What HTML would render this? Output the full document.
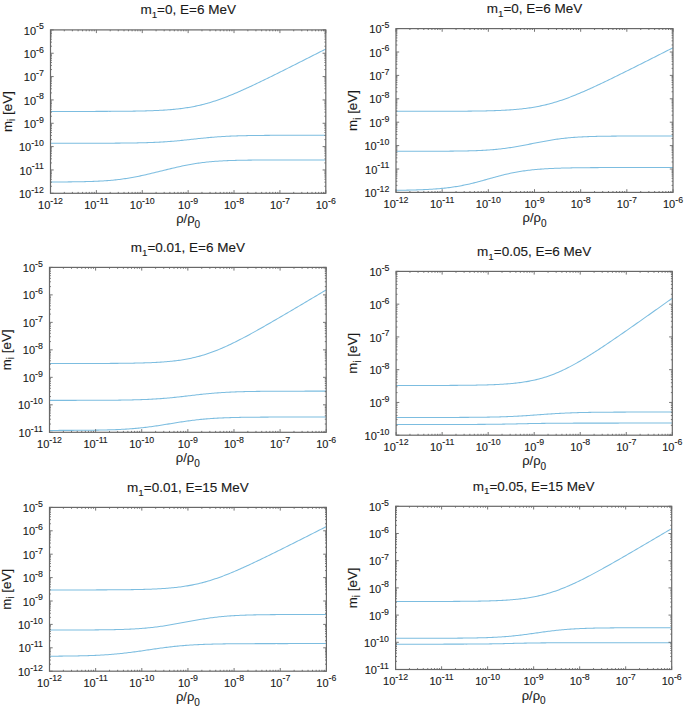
<!DOCTYPE html><html><head><meta charset="utf-8"><style>html,body{margin:0;padding:0;background:#fff;overflow:hidden;}svg{display:block;}text{font-family:"Liberation Sans",sans-serif;fill:#1a1a1a;stroke:#1a1a1a;stroke-width:0.12px;}</style></head><body>
<svg width="685" height="709" viewBox="0 0 685 709">
<rect width="685" height="709" fill="#fff"/>
<g><path d="M50.50,111.44 L51.88,111.44 L53.27,111.43 L54.65,111.43 L56.03,111.43 L57.42,111.43 L58.80,111.43 L60.18,111.43 L61.57,111.43 L62.95,111.43 L64.33,111.43 L65.72,111.43 L67.10,111.43 L68.48,111.43 L69.87,111.43 L71.25,111.43 L72.63,111.43 L74.02,111.42 L75.40,111.42 L76.78,111.42 L78.17,111.42 L79.55,111.42 L80.94,111.42 L82.32,111.42 L83.70,111.42 L85.09,111.41 L86.47,111.41 L87.85,111.41 L89.24,111.41 L90.62,111.40 L92.00,111.40 L93.39,111.40 L94.77,111.40 L96.15,111.39 L97.54,111.39 L98.92,111.39 L100.30,111.38 L101.69,111.38 L103.07,111.37 L104.45,111.37 L105.84,111.36 L107.22,111.36 L108.60,111.35 L109.99,111.35 L111.37,111.34 L112.75,111.33 L114.14,111.32 L115.52,111.32 L116.90,111.31 L118.29,111.30 L119.67,111.29 L121.05,111.28 L122.44,111.27 L123.82,111.25 L125.20,111.24 L126.59,111.23 L127.97,111.21 L129.35,111.19 L130.74,111.18 L132.12,111.16 L133.51,111.14 L134.89,111.12 L136.27,111.09 L137.66,111.07 L139.04,111.04 L140.42,111.01 L141.81,110.98 L143.19,110.95 L144.57,110.92 L145.96,110.88 L147.34,110.84 L148.72,110.80 L150.11,110.76 L151.49,110.71 L152.87,110.66 L154.26,110.60 L155.64,110.55 L157.02,110.49 L158.41,110.42 L159.79,110.35 L161.17,110.28 L162.56,110.20 L163.94,110.11 L165.32,110.02 L166.71,109.93 L168.09,109.83 L169.47,109.72 L170.86,109.61 L172.24,109.49 L173.62,109.36 L175.01,109.23 L176.39,109.09 L177.77,108.94 L179.16,108.78 L180.54,108.61 L181.92,108.44 L183.31,108.25 L184.69,108.06 L186.07,107.85 L187.46,107.64 L188.84,107.41 L190.23,107.18 L191.61,106.93 L192.99,106.67 L194.38,106.40 L195.76,106.12 L197.14,105.83 L198.53,105.52 L199.91,105.20 L201.29,104.87 L202.68,104.53 L204.06,104.18 L205.44,103.81 L206.83,103.43 L208.21,103.04 L209.59,102.64 L210.98,102.23 L212.36,101.80 L213.74,101.36 L215.13,100.91 L216.51,100.45 L217.89,99.98 L219.28,99.50 L220.66,99.01 L222.04,98.51 L223.43,98.00 L224.81,97.47 L226.19,96.94 L227.58,96.40 L228.96,95.85 L230.34,95.30 L231.73,94.73 L233.11,94.16 L234.49,93.58 L235.88,93.00 L237.26,92.40 L238.64,91.80 L240.03,91.20 L241.41,90.59 L242.79,89.97 L244.18,89.35 L245.56,88.72 L246.95,88.09 L248.33,87.46 L249.71,86.82 L251.10,86.17 L252.48,85.52 L253.86,84.87 L255.25,84.22 L256.63,83.56 L258.01,82.90 L259.40,82.24 L260.78,81.57 L262.16,80.90 L263.55,80.23 L264.93,79.56 L266.31,78.89 L267.70,78.21 L269.08,77.53 L270.46,76.85 L271.85,76.17 L273.23,75.49 L274.61,74.80 L276.00,74.12 L277.38,73.43 L278.76,72.75 L280.15,72.06 L281.53,71.37 L282.91,70.68 L284.30,69.98 L285.68,69.29 L287.06,68.60 L288.45,67.90 L289.83,67.21 L291.21,66.51 L292.60,65.82 L293.98,65.12 L295.36,64.43 L296.75,63.73 L298.13,63.03 L299.52,62.33 L300.90,61.63 L302.28,60.94 L303.67,60.24 L305.05,59.54 L306.43,58.84 L307.82,58.14 L309.20,57.44 L310.58,56.74 L311.97,56.04 L313.35,55.34 L314.73,54.63 L316.12,53.93 L317.50,53.23 L318.88,52.53 L320.27,51.83 L321.65,51.13 L323.03,50.42 L324.42,49.72 L325.80,49.02" fill="none" stroke="#7cbde0" stroke-width="1.05" stroke-linejoin="round"/><path d="M50.50,143.25 L51.88,143.25 L53.27,143.25 L54.65,143.25 L56.03,143.25 L57.42,143.25 L58.80,143.25 L60.18,143.25 L61.57,143.25 L62.95,143.25 L64.33,143.25 L65.72,143.25 L67.10,143.25 L68.48,143.25 L69.87,143.25 L71.25,143.25 L72.63,143.25 L74.02,143.25 L75.40,143.24 L76.78,143.24 L78.17,143.24 L79.55,143.24 L80.94,143.24 L82.32,143.24 L83.70,143.24 L85.09,143.23 L86.47,143.23 L87.85,143.23 L89.24,143.23 L90.62,143.23 L92.00,143.22 L93.39,143.22 L94.77,143.22 L96.15,143.22 L97.54,143.21 L98.92,143.21 L100.30,143.21 L101.69,143.20 L103.07,143.20 L104.45,143.19 L105.84,143.19 L107.22,143.18 L108.60,143.18 L109.99,143.17 L111.37,143.16 L112.75,143.16 L114.14,143.15 L115.52,143.14 L116.90,143.13 L118.29,143.12 L119.67,143.11 L121.05,143.10 L122.44,143.09 L123.82,143.07 L125.20,143.06 L126.59,143.04 L127.97,143.03 L129.35,143.01 L130.74,142.99 L132.12,142.97 L133.51,142.95 L134.89,142.93 L136.27,142.90 L137.66,142.88 L139.04,142.85 L140.42,142.82 L141.81,142.78 L143.19,142.75 L144.57,142.71 L145.96,142.67 L147.34,142.63 L148.72,142.59 L150.11,142.54 L151.49,142.49 L152.87,142.43 L154.26,142.38 L155.64,142.31 L157.02,142.25 L158.41,142.18 L159.79,142.11 L161.17,142.03 L162.56,141.95 L163.94,141.87 L165.32,141.78 L166.71,141.69 L168.09,141.59 L169.47,141.49 L170.86,141.38 L172.24,141.27 L173.62,141.15 L175.01,141.04 L176.39,140.91 L177.77,140.78 L179.16,140.65 L180.54,140.52 L181.92,140.38 L183.31,140.24 L184.69,140.10 L186.07,139.95 L187.46,139.80 L188.84,139.66 L190.23,139.51 L191.61,139.35 L192.99,139.20 L194.38,139.05 L195.76,138.90 L197.14,138.75 L198.53,138.60 L199.91,138.46 L201.29,138.31 L202.68,138.17 L204.06,138.03 L205.44,137.90 L206.83,137.76 L208.21,137.63 L209.59,137.51 L210.98,137.39 L212.36,137.27 L213.74,137.16 L215.13,137.05 L216.51,136.95 L217.89,136.85 L219.28,136.75 L220.66,136.66 L222.04,136.58 L223.43,136.49 L224.81,136.42 L226.19,136.34 L227.58,136.27 L228.96,136.21 L230.34,136.14 L231.73,136.08 L233.11,136.03 L234.49,135.98 L235.88,135.93 L237.26,135.88 L238.64,135.84 L240.03,135.80 L241.41,135.76 L242.79,135.72 L244.18,135.69 L245.56,135.66 L246.95,135.63 L248.33,135.60 L249.71,135.58 L251.10,135.55 L252.48,135.53 L253.86,135.51 L255.25,135.49 L256.63,135.47 L258.01,135.46 L259.40,135.44 L260.78,135.43 L262.16,135.41 L263.55,135.40 L264.93,135.39 L266.31,135.38 L267.70,135.37 L269.08,135.36 L270.46,135.35 L271.85,135.34 L273.23,135.33 L274.61,135.33 L276.00,135.32 L277.38,135.31 L278.76,135.31 L280.15,135.30 L281.53,135.30 L282.91,135.29 L284.30,135.29 L285.68,135.29 L287.06,135.28 L288.45,135.28 L289.83,135.28 L291.21,135.27 L292.60,135.27 L293.98,135.27 L295.36,135.27 L296.75,135.26 L298.13,135.26 L299.52,135.26 L300.90,135.26 L302.28,135.26 L303.67,135.26 L305.05,135.25 L306.43,135.25 L307.82,135.25 L309.20,135.25 L310.58,135.25 L311.97,135.25 L313.35,135.25 L314.73,135.25 L316.12,135.25 L317.50,135.25 L318.88,135.24 L320.27,135.24 L321.65,135.24 L323.03,135.24 L324.42,135.24 L325.80,135.24" fill="none" stroke="#7cbde0" stroke-width="1.05" stroke-linejoin="round"/><path d="M50.50,181.99 L51.88,181.98 L53.27,181.98 L54.65,181.97 L56.03,181.97 L57.42,181.96 L58.80,181.95 L60.18,181.95 L61.57,181.94 L62.95,181.93 L64.33,181.92 L65.72,181.91 L67.10,181.90 L68.48,181.89 L69.87,181.87 L71.25,181.86 L72.63,181.84 L74.02,181.83 L75.40,181.81 L76.78,181.79 L78.17,181.77 L79.55,181.75 L80.94,181.72 L82.32,181.69 L83.70,181.67 L85.09,181.63 L86.47,181.60 L87.85,181.56 L89.24,181.52 L90.62,181.48 L92.00,181.43 L93.39,181.38 L94.77,181.33 L96.15,181.27 L97.54,181.21 L98.92,181.14 L100.30,181.07 L101.69,181.00 L103.07,180.91 L104.45,180.82 L105.84,180.73 L107.22,180.63 L108.60,180.52 L109.99,180.41 L111.37,180.29 L112.75,180.16 L114.14,180.02 L115.52,179.88 L116.90,179.73 L118.29,179.57 L119.67,179.40 L121.05,179.22 L122.44,179.04 L123.82,178.85 L125.20,178.64 L126.59,178.43 L127.97,178.21 L129.35,177.98 L130.74,177.75 L132.12,177.50 L133.51,177.25 L134.89,176.99 L136.27,176.72 L137.66,176.44 L139.04,176.16 L140.42,175.87 L141.81,175.57 L143.19,175.27 L144.57,174.97 L145.96,174.65 L147.34,174.33 L148.72,174.01 L150.11,173.69 L151.49,173.36 L152.87,173.02 L154.26,172.69 L155.64,172.35 L157.02,172.01 L158.41,171.67 L159.79,171.33 L161.17,170.99 L162.56,170.65 L163.94,170.30 L165.32,169.96 L166.71,169.62 L168.09,169.29 L169.47,168.95 L170.86,168.62 L172.24,168.29 L173.62,167.96 L175.01,167.64 L176.39,167.32 L177.77,167.01 L179.16,166.70 L180.54,166.40 L181.92,166.11 L183.31,165.82 L184.69,165.53 L186.07,165.26 L187.46,164.99 L188.84,164.73 L190.23,164.47 L191.61,164.23 L192.99,163.99 L194.38,163.76 L195.76,163.54 L197.14,163.33 L198.53,163.13 L199.91,162.94 L201.29,162.75 L202.68,162.57 L204.06,162.40 L205.44,162.24 L206.83,162.09 L208.21,161.95 L209.59,161.81 L210.98,161.68 L212.36,161.56 L213.74,161.45 L215.13,161.34 L216.51,161.24 L217.89,161.15 L219.28,161.06 L220.66,160.98 L222.04,160.90 L223.43,160.83 L224.81,160.76 L226.19,160.70 L227.58,160.64 L228.96,160.59 L230.34,160.54 L231.73,160.49 L233.11,160.45 L234.49,160.41 L235.88,160.37 L237.26,160.34 L238.64,160.31 L240.03,160.28 L241.41,160.25 L242.79,160.23 L244.18,160.20 L245.56,160.18 L246.95,160.16 L248.33,160.14 L249.71,160.13 L251.10,160.11 L252.48,160.10 L253.86,160.09 L255.25,160.07 L256.63,160.06 L258.01,160.05 L259.40,160.04 L260.78,160.03 L262.16,160.03 L263.55,160.02 L264.93,160.01 L266.31,160.01 L267.70,160.00 L269.08,159.99 L270.46,159.99 L271.85,159.99 L273.23,159.98 L274.61,159.98 L276.00,159.97 L277.38,159.97 L278.76,159.97 L280.15,159.97 L281.53,159.96 L282.91,159.96 L284.30,159.96 L285.68,159.96 L287.06,159.96 L288.45,159.95 L289.83,159.95 L291.21,159.95 L292.60,159.95 L293.98,159.95 L295.36,159.95 L296.75,159.95 L298.13,159.95 L299.52,159.94 L300.90,159.94 L302.28,159.94 L303.67,159.94 L305.05,159.94 L306.43,159.94 L307.82,159.94 L309.20,159.94 L310.58,159.94 L311.97,159.94 L313.35,159.94 L314.73,159.94 L316.12,159.94 L317.50,159.94 L318.88,159.94 L320.27,159.94 L321.65,159.94 L323.03,159.94 L324.42,159.94 L325.80,159.94" fill="none" stroke="#7cbde0" stroke-width="1.05" stroke-linejoin="round"/><path d="M50.50,193.30v-3.2M50.50,29.90v3.2M64.31,193.30v-1.4M64.31,29.90v1.4M72.39,193.30v-1.4M72.39,29.90v1.4M78.12,193.30v-1.4M78.12,29.90v1.4M82.57,193.30v-1.4M82.57,29.90v1.4M86.20,193.30v-1.4M86.20,29.90v1.4M89.28,193.30v-1.4M89.28,29.90v1.4M91.94,193.30v-1.4M91.94,29.90v1.4M94.28,193.30v-1.4M94.28,29.90v1.4M96.38,193.30v-3.2M96.38,29.90v3.2M110.20,193.30v-1.4M110.20,29.90v1.4M118.28,193.30v-1.4M118.28,29.90v1.4M124.01,193.30v-1.4M124.01,29.90v1.4M128.45,193.30v-1.4M128.45,29.90v1.4M132.09,193.30v-1.4M132.09,29.90v1.4M135.16,193.30v-1.4M135.16,29.90v1.4M137.82,193.30v-1.4M137.82,29.90v1.4M140.17,193.30v-1.4M140.17,29.90v1.4M142.27,193.30v-3.2M142.27,29.90v3.2M156.08,193.30v-1.4M156.08,29.90v1.4M164.16,193.30v-1.4M164.16,29.90v1.4M169.89,193.30v-1.4M169.89,29.90v1.4M174.34,193.30v-1.4M174.34,29.90v1.4M177.97,193.30v-1.4M177.97,29.90v1.4M181.04,193.30v-1.4M181.04,29.90v1.4M183.70,193.30v-1.4M183.70,29.90v1.4M186.05,193.30v-1.4M186.05,29.90v1.4M188.15,193.30v-3.2M188.15,29.90v3.2M201.96,193.30v-1.4M201.96,29.90v1.4M210.04,193.30v-1.4M210.04,29.90v1.4M215.77,193.30v-1.4M215.77,29.90v1.4M220.22,193.30v-1.4M220.22,29.90v1.4M223.85,193.30v-1.4M223.85,29.90v1.4M226.93,193.30v-1.4M226.93,29.90v1.4M229.59,193.30v-1.4M229.59,29.90v1.4M231.93,193.30v-1.4M231.93,29.90v1.4M234.03,193.30v-3.2M234.03,29.90v3.2M247.85,193.30v-1.4M247.85,29.90v1.4M255.93,193.30v-1.4M255.93,29.90v1.4M261.66,193.30v-1.4M261.66,29.90v1.4M266.10,193.30v-1.4M266.10,29.90v1.4M269.74,193.30v-1.4M269.74,29.90v1.4M272.81,193.30v-1.4M272.81,29.90v1.4M275.47,193.30v-1.4M275.47,29.90v1.4M277.82,193.30v-1.4M277.82,29.90v1.4M279.92,193.30v-3.2M279.92,29.90v3.2M293.73,193.30v-1.4M293.73,29.90v1.4M301.81,193.30v-1.4M301.81,29.90v1.4M307.54,193.30v-1.4M307.54,29.90v1.4M311.99,193.30v-1.4M311.99,29.90v1.4M315.62,193.30v-1.4M315.62,29.90v1.4M318.69,193.30v-1.4M318.69,29.90v1.4M321.35,193.30v-1.4M321.35,29.90v1.4M323.70,193.30v-1.4M323.70,29.90v1.4M325.80,193.30v-3.2M325.80,29.90v3.2M50.50,193.30h3.2M325.80,193.30h-3.2M50.50,186.27h1.4M325.80,186.27h-1.4M50.50,182.16h1.4M325.80,182.16h-1.4M50.50,179.25h1.4M325.80,179.25h-1.4M50.50,176.98h1.4M325.80,176.98h-1.4M50.50,175.14h1.4M325.80,175.14h-1.4M50.50,173.57h1.4M325.80,173.57h-1.4M50.50,172.22h1.4M325.80,172.22h-1.4M50.50,171.03h1.4M325.80,171.03h-1.4M50.50,169.96h3.2M325.80,169.96h-3.2M50.50,162.93h1.4M325.80,162.93h-1.4M50.50,158.82h1.4M325.80,158.82h-1.4M50.50,155.90h1.4M325.80,155.90h-1.4M50.50,153.64h1.4M325.80,153.64h-1.4M50.50,151.79h1.4M325.80,151.79h-1.4M50.50,150.23h1.4M325.80,150.23h-1.4M50.50,148.88h1.4M325.80,148.88h-1.4M50.50,147.68h1.4M325.80,147.68h-1.4M50.50,146.61h3.2M325.80,146.61h-3.2M50.50,139.59h1.4M325.80,139.59h-1.4M50.50,135.48h1.4M325.80,135.48h-1.4M50.50,132.56h1.4M325.80,132.56h-1.4M50.50,130.30h1.4M325.80,130.30h-1.4M50.50,128.45h1.4M325.80,128.45h-1.4M50.50,126.89h1.4M325.80,126.89h-1.4M50.50,125.53h1.4M325.80,125.53h-1.4M50.50,124.34h1.4M325.80,124.34h-1.4M50.50,123.27h3.2M325.80,123.27h-3.2M50.50,116.24h1.4M325.80,116.24h-1.4M50.50,112.13h1.4M325.80,112.13h-1.4M50.50,109.22h1.4M325.80,109.22h-1.4M50.50,106.96h1.4M325.80,106.96h-1.4M50.50,105.11h1.4M325.80,105.11h-1.4M50.50,103.54h1.4M325.80,103.54h-1.4M50.50,102.19h1.4M325.80,102.19h-1.4M50.50,101.00h1.4M325.80,101.00h-1.4M50.50,99.93h3.2M325.80,99.93h-3.2M50.50,92.90h1.4M325.80,92.90h-1.4M50.50,88.79h1.4M325.80,88.79h-1.4M50.50,85.87h1.4M325.80,85.87h-1.4M50.50,83.61h1.4M325.80,83.61h-1.4M50.50,81.76h1.4M325.80,81.76h-1.4M50.50,80.20h1.4M325.80,80.20h-1.4M50.50,78.85h1.4M325.80,78.85h-1.4M50.50,77.65h1.4M325.80,77.65h-1.4M50.50,76.59h3.2M325.80,76.59h-3.2M50.50,69.56h1.4M325.80,69.56h-1.4M50.50,65.45h1.4M325.80,65.45h-1.4M50.50,62.53h1.4M325.80,62.53h-1.4M50.50,60.27h1.4M325.80,60.27h-1.4M50.50,58.42h1.4M325.80,58.42h-1.4M50.50,56.86h1.4M325.80,56.86h-1.4M50.50,55.51h1.4M325.80,55.51h-1.4M50.50,54.31h1.4M325.80,54.31h-1.4M50.50,53.24h3.2M325.80,53.24h-3.2M50.50,46.22h1.4M325.80,46.22h-1.4M50.50,42.11h1.4M325.80,42.11h-1.4M50.50,39.19h1.4M325.80,39.19h-1.4M50.50,36.93h1.4M325.80,36.93h-1.4M50.50,35.08h1.4M325.80,35.08h-1.4M50.50,33.52h1.4M325.80,33.52h-1.4M50.50,32.16h1.4M325.80,32.16h-1.4M50.50,30.97h1.4M325.80,30.97h-1.4M50.50,29.90h3.2M325.80,29.90h-3.2" stroke="#686868" stroke-width="0.9" fill="none"/><rect x="50.50" y="29.90" width="275.30" height="163.40" fill="none" stroke="#686868" stroke-width="1.2"/><text x="50.50" y="208.70" font-size="11" text-anchor="middle">10<tspan dy="-5.2" font-size="8.8">-12</tspan></text><text x="96.38" y="208.70" font-size="11" text-anchor="middle">10<tspan dy="-5.2" font-size="8.8">-11</tspan></text><text x="142.27" y="208.70" font-size="11" text-anchor="middle">10<tspan dy="-5.2" font-size="8.8">-10</tspan></text><text x="188.15" y="208.70" font-size="11" text-anchor="middle">10<tspan dy="-5.2" font-size="8.8">-9</tspan></text><text x="234.03" y="208.70" font-size="11" text-anchor="middle">10<tspan dy="-5.2" font-size="8.8">-8</tspan></text><text x="279.92" y="208.70" font-size="11" text-anchor="middle">10<tspan dy="-5.2" font-size="8.8">-7</tspan></text><text x="325.80" y="208.70" font-size="11" text-anchor="middle">10<tspan dy="-5.2" font-size="8.8">-6</tspan></text><text x="43.90" y="197.90" font-size="11" text-anchor="end">10<tspan dy="-5.2" font-size="8.8">-12</tspan></text><text x="43.90" y="174.56" font-size="11" text-anchor="end">10<tspan dy="-5.2" font-size="8.8">-11</tspan></text><text x="43.90" y="151.21" font-size="11" text-anchor="end">10<tspan dy="-5.2" font-size="8.8">-10</tspan></text><text x="43.90" y="127.87" font-size="11" text-anchor="end">10<tspan dy="-5.2" font-size="8.8">-9</tspan></text><text x="43.90" y="104.53" font-size="11" text-anchor="end">10<tspan dy="-5.2" font-size="8.8">-8</tspan></text><text x="43.90" y="81.19" font-size="11" text-anchor="end">10<tspan dy="-5.2" font-size="8.8">-7</tspan></text><text x="43.90" y="57.84" font-size="11" text-anchor="end">10<tspan dy="-5.2" font-size="8.8">-6</tspan></text><text x="43.90" y="34.50" font-size="11" text-anchor="end">10<tspan dy="-5.2" font-size="8.8">-5</tspan></text><text x="188.15" y="14.40" font-size="13.5" text-anchor="middle">m<tspan dy="3.6" font-size="9.8">1</tspan><tspan dy="-3.6">=0, E=6 MeV</tspan></text><text x="188.15" y="223.30" font-size="13" text-anchor="middle">ρ/ρ<tspan dy="4.6" font-size="10">0</tspan></text><text transform="translate(11.60,111.60) rotate(-90)" x="0" y="0" font-size="13.4" text-anchor="middle">m<tspan dy="3.6" font-size="10">i</tspan><tspan dy="-3.6"> [eV]</tspan></text></g>
<g><path d="M396.00,111.33 L397.39,111.33 L398.78,111.33 L400.18,111.33 L401.57,111.33 L402.96,111.33 L404.35,111.33 L405.74,111.33 L407.14,111.33 L408.53,111.33 L409.92,111.33 L411.31,111.33 L412.70,111.33 L414.10,111.33 L415.49,111.32 L416.88,111.32 L418.27,111.32 L419.66,111.32 L421.06,111.32 L422.45,111.32 L423.84,111.32 L425.23,111.32 L426.62,111.31 L428.02,111.31 L429.41,111.31 L430.80,111.31 L432.19,111.31 L433.58,111.30 L434.97,111.30 L436.37,111.30 L437.76,111.30 L439.15,111.29 L440.54,111.29 L441.93,111.29 L443.33,111.28 L444.72,111.28 L446.11,111.27 L447.50,111.27 L448.89,111.26 L450.29,111.26 L451.68,111.25 L453.07,111.25 L454.46,111.24 L455.85,111.23 L457.25,111.23 L458.64,111.22 L460.03,111.21 L461.42,111.20 L462.81,111.19 L464.21,111.18 L465.60,111.17 L466.99,111.16 L468.38,111.14 L469.77,111.13 L471.17,111.12 L472.56,111.10 L473.95,111.08 L475.34,111.07 L476.73,111.05 L478.13,111.03 L479.52,111.00 L480.91,110.98 L482.30,110.95 L483.69,110.93 L485.09,110.90 L486.48,110.87 L487.87,110.83 L489.26,110.80 L490.65,110.76 L492.05,110.72 L493.44,110.68 L494.83,110.63 L496.22,110.58 L497.61,110.53 L499.01,110.48 L500.40,110.42 L501.79,110.35 L503.18,110.29 L504.57,110.22 L505.96,110.14 L507.36,110.06 L508.75,109.97 L510.14,109.88 L511.53,109.78 L512.92,109.68 L514.32,109.57 L515.71,109.45 L517.10,109.33 L518.49,109.20 L519.88,109.06 L521.28,108.92 L522.67,108.77 L524.06,108.60 L525.45,108.43 L526.84,108.25 L528.24,108.06 L529.63,107.86 L531.02,107.65 L532.41,107.43 L533.80,107.20 L535.20,106.96 L536.59,106.71 L537.98,106.45 L539.37,106.17 L540.76,105.88 L542.16,105.58 L543.55,105.27 L544.94,104.95 L546.33,104.62 L547.72,104.27 L549.12,103.91 L550.51,103.54 L551.90,103.15 L553.29,102.76 L554.68,102.35 L556.08,101.93 L557.47,101.49 L558.86,101.05 L560.25,100.60 L561.64,100.13 L563.04,99.65 L564.43,99.17 L565.82,98.67 L567.21,98.16 L568.60,97.64 L569.99,97.12 L571.39,96.58 L572.78,96.04 L574.17,95.48 L575.56,94.92 L576.95,94.35 L578.35,93.78 L579.74,93.19 L581.13,92.60 L582.52,92.01 L583.91,91.40 L585.31,90.79 L586.70,90.18 L588.09,89.56 L589.48,88.93 L590.87,88.30 L592.27,87.67 L593.66,87.03 L595.05,86.39 L596.44,85.74 L597.83,85.09 L599.23,84.43 L600.62,83.78 L602.01,83.12 L603.40,82.45 L604.79,81.79 L606.19,81.12 L607.58,80.45 L608.97,79.78 L610.36,79.10 L611.75,78.42 L613.15,77.75 L614.54,77.07 L615.93,76.38 L617.32,75.70 L618.71,75.01 L620.11,74.33 L621.50,73.64 L622.89,72.95 L624.28,72.26 L625.67,71.57 L627.07,70.88 L628.46,70.19 L629.85,69.49 L631.24,68.80 L632.63,68.10 L634.03,67.41 L635.42,66.71 L636.81,66.01 L638.20,65.32 L639.59,64.62 L640.98,63.92 L642.38,63.22 L643.77,62.52 L645.16,61.82 L646.55,61.12 L647.94,60.42 L649.34,59.72 L650.73,59.02 L652.12,58.32 L653.51,57.61 L654.90,56.91 L656.30,56.21 L657.69,55.51 L659.08,54.80 L660.47,54.10 L661.86,53.40 L663.26,52.69 L664.65,51.99 L666.04,51.29 L667.43,50.58 L668.82,49.88 L670.22,49.18 L671.61,48.47 L673.00,47.77" fill="none" stroke="#7cbde0" stroke-width="1.05" stroke-linejoin="round"/><path d="M396.00,151.28 L397.39,151.28 L398.78,151.28 L400.18,151.28 L401.57,151.28 L402.96,151.28 L404.35,151.28 L405.74,151.27 L407.14,151.27 L408.53,151.27 L409.92,151.27 L411.31,151.27 L412.70,151.27 L414.10,151.27 L415.49,151.27 L416.88,151.27 L418.27,151.26 L419.66,151.26 L421.06,151.26 L422.45,151.26 L423.84,151.26 L425.23,151.25 L426.62,151.25 L428.02,151.25 L429.41,151.24 L430.80,151.24 L432.19,151.24 L433.58,151.23 L434.97,151.23 L436.37,151.22 L437.76,151.22 L439.15,151.21 L440.54,151.21 L441.93,151.20 L443.33,151.19 L444.72,151.18 L446.11,151.17 L447.50,151.16 L448.89,151.15 L450.29,151.14 L451.68,151.13 L453.07,151.12 L454.46,151.10 L455.85,151.09 L457.25,151.07 L458.64,151.05 L460.03,151.03 L461.42,151.01 L462.81,150.99 L464.21,150.96 L465.60,150.93 L466.99,150.90 L468.38,150.87 L469.77,150.83 L471.17,150.80 L472.56,150.75 L473.95,150.71 L475.34,150.66 L476.73,150.61 L478.13,150.56 L479.52,150.50 L480.91,150.43 L482.30,150.36 L483.69,150.29 L485.09,150.21 L486.48,150.13 L487.87,150.04 L489.26,149.94 L490.65,149.84 L492.05,149.73 L493.44,149.61 L494.83,149.49 L496.22,149.36 L497.61,149.22 L499.01,149.08 L500.40,148.92 L501.79,148.76 L503.18,148.60 L504.57,148.42 L505.96,148.24 L507.36,148.04 L508.75,147.85 L510.14,147.64 L511.53,147.42 L512.92,147.20 L514.32,146.98 L515.71,146.74 L517.10,146.50 L518.49,146.26 L519.88,146.00 L521.28,145.75 L522.67,145.49 L524.06,145.22 L525.45,144.95 L526.84,144.68 L528.24,144.41 L529.63,144.13 L531.02,143.86 L532.41,143.58 L533.80,143.30 L535.20,143.03 L536.59,142.75 L537.98,142.48 L539.37,142.21 L540.76,141.94 L542.16,141.68 L543.55,141.42 L544.94,141.17 L546.33,140.92 L547.72,140.67 L549.12,140.43 L550.51,140.20 L551.90,139.98 L553.29,139.76 L554.68,139.55 L556.08,139.34 L557.47,139.14 L558.86,138.96 L560.25,138.77 L561.64,138.60 L563.04,138.44 L564.43,138.28 L565.82,138.13 L567.21,137.99 L568.60,137.85 L569.99,137.72 L571.39,137.60 L572.78,137.49 L574.17,137.38 L575.56,137.28 L576.95,137.19 L578.35,137.10 L579.74,137.02 L581.13,136.94 L582.52,136.87 L583.91,136.80 L585.31,136.74 L586.70,136.68 L588.09,136.63 L589.48,136.58 L590.87,136.53 L592.27,136.49 L593.66,136.45 L595.05,136.41 L596.44,136.37 L597.83,136.34 L599.23,136.31 L600.62,136.29 L602.01,136.26 L603.40,136.24 L604.79,136.22 L606.19,136.20 L607.58,136.18 L608.97,136.16 L610.36,136.15 L611.75,136.13 L613.15,136.12 L614.54,136.11 L615.93,136.10 L617.32,136.09 L618.71,136.08 L620.11,136.07 L621.50,136.06 L622.89,136.05 L624.28,136.05 L625.67,136.04 L627.07,136.03 L628.46,136.03 L629.85,136.02 L631.24,136.02 L632.63,136.02 L634.03,136.01 L635.42,136.01 L636.81,136.01 L638.20,136.00 L639.59,136.00 L640.98,136.00 L642.38,136.00 L643.77,135.99 L645.16,135.99 L646.55,135.99 L647.94,135.99 L649.34,135.99 L650.73,135.99 L652.12,135.98 L653.51,135.98 L654.90,135.98 L656.30,135.98 L657.69,135.98 L659.08,135.98 L660.47,135.98 L661.86,135.98 L663.26,135.98 L664.65,135.98 L666.04,135.98 L667.43,135.98 L668.82,135.98 L670.22,135.97 L671.61,135.97 L673.00,135.97" fill="none" stroke="#7cbde0" stroke-width="1.05" stroke-linejoin="round"/><path d="M396.00,190.31 L397.39,190.29 L398.78,190.28 L400.18,190.26 L401.57,190.24 L402.96,190.21 L404.35,190.19 L405.74,190.16 L407.14,190.13 L408.53,190.11 L409.92,190.07 L411.31,190.04 L412.70,190.00 L414.10,189.97 L415.49,189.92 L416.88,189.88 L418.27,189.83 L419.66,189.79 L421.06,189.73 L422.45,189.68 L423.84,189.62 L425.23,189.55 L426.62,189.48 L428.02,189.41 L429.41,189.33 L430.80,189.25 L432.19,189.17 L433.58,189.07 L434.97,188.98 L436.37,188.87 L437.76,188.76 L439.15,188.65 L440.54,188.52 L441.93,188.39 L443.33,188.25 L444.72,188.11 L446.11,187.95 L447.50,187.79 L448.89,187.62 L450.29,187.44 L451.68,187.25 L453.07,187.06 L454.46,186.85 L455.85,186.63 L457.25,186.40 L458.64,186.16 L460.03,185.92 L461.42,185.66 L462.81,185.39 L464.21,185.11 L465.60,184.82 L466.99,184.52 L468.38,184.21 L469.77,183.89 L471.17,183.56 L472.56,183.23 L473.95,182.88 L475.34,182.53 L476.73,182.17 L478.13,181.80 L479.52,181.43 L480.91,181.05 L482.30,180.66 L483.69,180.27 L485.09,179.88 L486.48,179.49 L487.87,179.10 L489.26,178.70 L490.65,178.31 L492.05,177.92 L493.44,177.53 L494.83,177.15 L496.22,176.77 L497.61,176.39 L499.01,176.02 L500.40,175.66 L501.79,175.30 L503.18,174.95 L504.57,174.61 L505.96,174.28 L507.36,173.96 L508.75,173.64 L510.14,173.34 L511.53,173.05 L512.92,172.77 L514.32,172.49 L515.71,172.23 L517.10,171.98 L518.49,171.74 L519.88,171.51 L521.28,171.28 L522.67,171.07 L524.06,170.87 L525.45,170.68 L526.84,170.50 L528.24,170.32 L529.63,170.16 L531.02,170.00 L532.41,169.85 L533.80,169.71 L535.20,169.58 L536.59,169.45 L537.98,169.33 L539.37,169.22 L540.76,169.12 L542.16,169.02 L543.55,168.92 L544.94,168.83 L546.33,168.75 L547.72,168.67 L549.12,168.60 L550.51,168.53 L551.90,168.46 L553.29,168.40 L554.68,168.34 L556.08,168.29 L557.47,168.24 L558.86,168.19 L560.25,168.15 L561.64,168.10 L563.04,168.06 L564.43,168.03 L565.82,167.99 L567.21,167.96 L568.60,167.93 L569.99,167.90 L571.39,167.88 L572.78,167.85 L574.17,167.83 L575.56,167.81 L576.95,167.79 L578.35,167.77 L579.74,167.75 L581.13,167.73 L582.52,167.72 L583.91,167.70 L585.31,167.69 L586.70,167.68 L588.09,167.66 L589.48,167.65 L590.87,167.64 L592.27,167.63 L593.66,167.62 L595.05,167.62 L596.44,167.61 L597.83,167.60 L599.23,167.59 L600.62,167.59 L602.01,167.58 L603.40,167.57 L604.79,167.57 L606.19,167.56 L607.58,167.56 L608.97,167.56 L610.36,167.55 L611.75,167.55 L613.15,167.54 L614.54,167.54 L615.93,167.54 L617.32,167.53 L618.71,167.53 L620.11,167.53 L621.50,167.53 L622.89,167.53 L624.28,167.52 L625.67,167.52 L627.07,167.52 L628.46,167.52 L629.85,167.52 L631.24,167.51 L632.63,167.51 L634.03,167.51 L635.42,167.51 L636.81,167.51 L638.20,167.51 L639.59,167.51 L640.98,167.51 L642.38,167.51 L643.77,167.51 L645.16,167.50 L646.55,167.50 L647.94,167.50 L649.34,167.50 L650.73,167.50 L652.12,167.50 L653.51,167.50 L654.90,167.50 L656.30,167.50 L657.69,167.50 L659.08,167.50 L660.47,167.50 L661.86,167.50 L663.26,167.50 L664.65,167.50 L666.04,167.50 L667.43,167.50 L668.82,167.50 L670.22,167.50 L671.61,167.50 L673.00,167.50" fill="none" stroke="#7cbde0" stroke-width="1.05" stroke-linejoin="round"/><path d="M396.00,192.40v-3.2M396.00,28.60v3.2M409.90,192.40v-1.4M409.90,28.60v1.4M418.03,192.40v-1.4M418.03,28.60v1.4M423.80,192.40v-1.4M423.80,28.60v1.4M428.27,192.40v-1.4M428.27,28.60v1.4M431.92,192.40v-1.4M431.92,28.60v1.4M435.02,192.40v-1.4M435.02,28.60v1.4M437.69,192.40v-1.4M437.69,28.60v1.4M440.05,192.40v-1.4M440.05,28.60v1.4M442.17,192.40v-3.2M442.17,28.60v3.2M456.06,192.40v-1.4M456.06,28.60v1.4M464.19,192.40v-1.4M464.19,28.60v1.4M469.96,192.40v-1.4M469.96,28.60v1.4M474.44,192.40v-1.4M474.44,28.60v1.4M478.09,192.40v-1.4M478.09,28.60v1.4M481.18,192.40v-1.4M481.18,28.60v1.4M483.86,192.40v-1.4M483.86,28.60v1.4M486.22,192.40v-1.4M486.22,28.60v1.4M488.33,192.40v-3.2M488.33,28.60v3.2M502.23,192.40v-1.4M502.23,28.60v1.4M510.36,192.40v-1.4M510.36,28.60v1.4M516.13,192.40v-1.4M516.13,28.60v1.4M520.60,192.40v-1.4M520.60,28.60v1.4M524.26,192.40v-1.4M524.26,28.60v1.4M527.35,192.40v-1.4M527.35,28.60v1.4M530.03,192.40v-1.4M530.03,28.60v1.4M532.39,192.40v-1.4M532.39,28.60v1.4M534.50,192.40v-3.2M534.50,28.60v3.2M548.40,192.40v-1.4M548.40,28.60v1.4M556.53,192.40v-1.4M556.53,28.60v1.4M562.30,192.40v-1.4M562.30,28.60v1.4M566.77,192.40v-1.4M566.77,28.60v1.4M570.42,192.40v-1.4M570.42,28.60v1.4M573.52,192.40v-1.4M573.52,28.60v1.4M576.19,192.40v-1.4M576.19,28.60v1.4M578.55,192.40v-1.4M578.55,28.60v1.4M580.67,192.40v-3.2M580.67,28.60v3.2M594.56,192.40v-1.4M594.56,28.60v1.4M602.69,192.40v-1.4M602.69,28.60v1.4M608.46,192.40v-1.4M608.46,28.60v1.4M612.94,192.40v-1.4M612.94,28.60v1.4M616.59,192.40v-1.4M616.59,28.60v1.4M619.68,192.40v-1.4M619.68,28.60v1.4M622.36,192.40v-1.4M622.36,28.60v1.4M624.72,192.40v-1.4M624.72,28.60v1.4M626.83,192.40v-3.2M626.83,28.60v3.2M640.73,192.40v-1.4M640.73,28.60v1.4M648.86,192.40v-1.4M648.86,28.60v1.4M654.63,192.40v-1.4M654.63,28.60v1.4M659.10,192.40v-1.4M659.10,28.60v1.4M662.76,192.40v-1.4M662.76,28.60v1.4M665.85,192.40v-1.4M665.85,28.60v1.4M668.53,192.40v-1.4M668.53,28.60v1.4M670.89,192.40v-1.4M670.89,28.60v1.4M673.00,192.40v-3.2M673.00,28.60v3.2M396.00,192.40h3.2M673.00,192.40h-3.2M396.00,185.36h1.4M673.00,185.36h-1.4M396.00,181.24h1.4M673.00,181.24h-1.4M396.00,178.31h1.4M673.00,178.31h-1.4M396.00,176.04h1.4M673.00,176.04h-1.4M396.00,174.19h1.4M673.00,174.19h-1.4M396.00,172.62h1.4M673.00,172.62h-1.4M396.00,171.27h1.4M673.00,171.27h-1.4M396.00,170.07h1.4M673.00,170.07h-1.4M396.00,169.00h3.2M673.00,169.00h-3.2M396.00,161.96h1.4M673.00,161.96h-1.4M396.00,157.84h1.4M673.00,157.84h-1.4M396.00,154.91h1.4M673.00,154.91h-1.4M396.00,152.64h1.4M673.00,152.64h-1.4M396.00,150.79h1.4M673.00,150.79h-1.4M396.00,149.22h1.4M673.00,149.22h-1.4M396.00,147.87h1.4M673.00,147.87h-1.4M396.00,146.67h1.4M673.00,146.67h-1.4M396.00,145.60h3.2M673.00,145.60h-3.2M396.00,138.56h1.4M673.00,138.56h-1.4M396.00,134.44h1.4M673.00,134.44h-1.4M396.00,131.51h1.4M673.00,131.51h-1.4M396.00,129.24h1.4M673.00,129.24h-1.4M396.00,127.39h1.4M673.00,127.39h-1.4M396.00,125.82h1.4M673.00,125.82h-1.4M396.00,124.47h1.4M673.00,124.47h-1.4M396.00,123.27h1.4M673.00,123.27h-1.4M396.00,122.20h3.2M673.00,122.20h-3.2M396.00,115.16h1.4M673.00,115.16h-1.4M396.00,111.04h1.4M673.00,111.04h-1.4M396.00,108.11h1.4M673.00,108.11h-1.4M396.00,105.84h1.4M673.00,105.84h-1.4M396.00,103.99h1.4M673.00,103.99h-1.4M396.00,102.42h1.4M673.00,102.42h-1.4M396.00,101.07h1.4M673.00,101.07h-1.4M396.00,99.87h1.4M673.00,99.87h-1.4M396.00,98.80h3.2M673.00,98.80h-3.2M396.00,91.76h1.4M673.00,91.76h-1.4M396.00,87.64h1.4M673.00,87.64h-1.4M396.00,84.71h1.4M673.00,84.71h-1.4M396.00,82.44h1.4M673.00,82.44h-1.4M396.00,80.59h1.4M673.00,80.59h-1.4M396.00,79.02h1.4M673.00,79.02h-1.4M396.00,77.67h1.4M673.00,77.67h-1.4M396.00,76.47h1.4M673.00,76.47h-1.4M396.00,75.40h3.2M673.00,75.40h-3.2M396.00,68.36h1.4M673.00,68.36h-1.4M396.00,64.24h1.4M673.00,64.24h-1.4M396.00,61.31h1.4M673.00,61.31h-1.4M396.00,59.04h1.4M673.00,59.04h-1.4M396.00,57.19h1.4M673.00,57.19h-1.4M396.00,55.62h1.4M673.00,55.62h-1.4M396.00,54.27h1.4M673.00,54.27h-1.4M396.00,53.07h1.4M673.00,53.07h-1.4M396.00,52.00h3.2M673.00,52.00h-3.2M396.00,44.96h1.4M673.00,44.96h-1.4M396.00,40.84h1.4M673.00,40.84h-1.4M396.00,37.91h1.4M673.00,37.91h-1.4M396.00,35.64h1.4M673.00,35.64h-1.4M396.00,33.79h1.4M673.00,33.79h-1.4M396.00,32.22h1.4M673.00,32.22h-1.4M396.00,30.87h1.4M673.00,30.87h-1.4M396.00,29.67h1.4M673.00,29.67h-1.4M396.00,28.60h3.2M673.00,28.60h-3.2" stroke="#686868" stroke-width="0.9" fill="none"/><rect x="396.00" y="28.60" width="277.00" height="163.80" fill="none" stroke="#686868" stroke-width="1.2"/><text x="396.00" y="207.80" font-size="11" text-anchor="middle">10<tspan dy="-5.2" font-size="8.8">-12</tspan></text><text x="442.17" y="207.80" font-size="11" text-anchor="middle">10<tspan dy="-5.2" font-size="8.8">-11</tspan></text><text x="488.33" y="207.80" font-size="11" text-anchor="middle">10<tspan dy="-5.2" font-size="8.8">-10</tspan></text><text x="534.50" y="207.80" font-size="11" text-anchor="middle">10<tspan dy="-5.2" font-size="8.8">-9</tspan></text><text x="580.67" y="207.80" font-size="11" text-anchor="middle">10<tspan dy="-5.2" font-size="8.8">-8</tspan></text><text x="626.83" y="207.80" font-size="11" text-anchor="middle">10<tspan dy="-5.2" font-size="8.8">-7</tspan></text><text x="673.00" y="207.80" font-size="11" text-anchor="middle">10<tspan dy="-5.2" font-size="8.8">-6</tspan></text><text x="389.40" y="197.00" font-size="11" text-anchor="end">10<tspan dy="-5.2" font-size="8.8">-12</tspan></text><text x="389.40" y="173.60" font-size="11" text-anchor="end">10<tspan dy="-5.2" font-size="8.8">-11</tspan></text><text x="389.40" y="150.20" font-size="11" text-anchor="end">10<tspan dy="-5.2" font-size="8.8">-10</tspan></text><text x="389.40" y="126.80" font-size="11" text-anchor="end">10<tspan dy="-5.2" font-size="8.8">-9</tspan></text><text x="389.40" y="103.40" font-size="11" text-anchor="end">10<tspan dy="-5.2" font-size="8.8">-8</tspan></text><text x="389.40" y="80.00" font-size="11" text-anchor="end">10<tspan dy="-5.2" font-size="8.8">-7</tspan></text><text x="389.40" y="56.60" font-size="11" text-anchor="end">10<tspan dy="-5.2" font-size="8.8">-6</tspan></text><text x="389.40" y="33.20" font-size="11" text-anchor="end">10<tspan dy="-5.2" font-size="8.8">-5</tspan></text><text x="534.50" y="13.10" font-size="13.5" text-anchor="middle">m<tspan dy="3.6" font-size="9.8">1</tspan><tspan dy="-3.6">=0, E=6 MeV</tspan></text><text x="534.50" y="222.40" font-size="13" text-anchor="middle">ρ/ρ<tspan dy="4.6" font-size="10">0</tspan></text><text transform="translate(357.10,110.50) rotate(-90)" x="0" y="0" font-size="13.4" text-anchor="middle">m<tspan dy="3.6" font-size="10">i</tspan><tspan dy="-3.6"> [eV]</tspan></text></g>
<g><path d="M49.50,363.51 L50.89,363.51 L52.28,363.51 L53.67,363.51 L55.06,363.51 L56.45,363.51 L57.84,363.51 L59.23,363.51 L60.62,363.50 L62.01,363.50 L63.40,363.50 L64.79,363.50 L66.19,363.50 L67.58,363.50 L68.97,363.50 L70.36,363.50 L71.75,363.50 L73.14,363.50 L74.53,363.49 L75.92,363.49 L77.31,363.49 L78.70,363.49 L80.09,363.49 L81.48,363.49 L82.87,363.48 L84.26,363.48 L85.65,363.48 L87.04,363.48 L88.43,363.47 L89.82,363.47 L91.21,363.47 L92.60,363.47 L93.99,363.46 L95.38,363.46 L96.78,363.45 L98.17,363.45 L99.56,363.45 L100.95,363.44 L102.34,363.44 L103.73,363.43 L105.12,363.42 L106.51,363.42 L107.90,363.41 L109.29,363.40 L110.68,363.39 L112.07,363.39 L113.46,363.38 L114.85,363.37 L116.24,363.36 L117.63,363.35 L119.02,363.33 L120.41,363.32 L121.80,363.31 L123.19,363.29 L124.58,363.28 L125.97,363.26 L127.37,363.24 L128.76,363.22 L130.15,363.20 L131.54,363.18 L132.93,363.15 L134.32,363.13 L135.71,363.10 L137.10,363.07 L138.49,363.04 L139.88,363.01 L141.27,362.97 L142.66,362.93 L144.05,362.89 L145.44,362.85 L146.83,362.80 L148.22,362.75 L149.61,362.70 L151.00,362.65 L152.39,362.59 L153.78,362.52 L155.17,362.45 L156.56,362.38 L157.96,362.30 L159.35,362.22 L160.74,362.13 L162.13,362.04 L163.52,361.94 L164.91,361.83 L166.30,361.72 L167.69,361.60 L169.08,361.48 L170.47,361.34 L171.86,361.20 L173.25,361.05 L174.64,360.89 L176.03,360.72 L177.42,360.54 L178.81,360.36 L180.20,360.16 L181.59,359.95 L182.98,359.73 L184.37,359.50 L185.76,359.26 L187.15,359.00 L188.55,358.74 L189.94,358.46 L191.33,358.16 L192.72,357.86 L194.11,357.54 L195.50,357.20 L196.89,356.86 L198.28,356.50 L199.67,356.12 L201.06,355.73 L202.45,355.33 L203.84,354.91 L205.23,354.47 L206.62,354.03 L208.01,353.57 L209.40,353.09 L210.79,352.60 L212.18,352.10 L213.57,351.58 L214.96,351.05 L216.35,350.51 L217.74,349.95 L219.14,349.38 L220.53,348.80 L221.92,348.21 L223.31,347.60 L224.70,346.99 L226.09,346.36 L227.48,345.72 L228.87,345.08 L230.26,344.42 L231.65,343.75 L233.04,343.08 L234.43,342.40 L235.82,341.70 L237.21,341.01 L238.60,340.30 L239.99,339.59 L241.38,338.87 L242.77,338.14 L244.16,337.41 L245.55,336.67 L246.94,335.92 L248.33,335.17 L249.73,334.42 L251.12,333.66 L252.51,332.90 L253.90,332.13 L255.29,331.36 L256.68,330.59 L258.07,329.81 L259.46,329.03 L260.85,328.24 L262.24,327.46 L263.63,326.67 L265.02,325.88 L266.41,325.08 L267.80,324.28 L269.19,323.49 L270.58,322.69 L271.97,321.88 L273.36,321.08 L274.75,320.27 L276.14,319.47 L277.53,318.66 L278.92,317.85 L280.32,317.04 L281.71,316.22 L283.10,315.41 L284.49,314.60 L285.88,313.78 L287.27,312.96 L288.66,312.15 L290.05,311.33 L291.44,310.51 L292.83,309.69 L294.22,308.87 L295.61,308.05 L297.00,307.23 L298.39,306.41 L299.78,305.59 L301.17,304.76 L302.56,303.94 L303.95,303.12 L305.34,302.30 L306.73,301.47 L308.12,300.65 L309.51,299.82 L310.91,299.00 L312.30,298.17 L313.69,297.35 L315.08,296.52 L316.47,295.70 L317.86,294.87 L319.25,294.04 L320.64,293.22 L322.03,292.39 L323.42,291.56 L324.81,290.74 L326.20,289.91" fill="none" stroke="#7cbde0" stroke-width="1.05" stroke-linejoin="round"/><path d="M49.50,400.36 L50.89,400.36 L52.28,400.36 L53.67,400.36 L55.06,400.36 L56.45,400.36 L57.84,400.36 L59.23,400.36 L60.62,400.36 L62.01,400.36 L63.40,400.36 L64.79,400.36 L66.19,400.36 L67.58,400.35 L68.97,400.35 L70.36,400.35 L71.75,400.35 L73.14,400.35 L74.53,400.35 L75.92,400.35 L77.31,400.34 L78.70,400.34 L80.09,400.34 L81.48,400.34 L82.87,400.33 L84.26,400.33 L85.65,400.33 L87.04,400.33 L88.43,400.32 L89.82,400.32 L91.21,400.31 L92.60,400.31 L93.99,400.31 L95.38,400.30 L96.78,400.29 L98.17,400.29 L99.56,400.28 L100.95,400.28 L102.34,400.27 L103.73,400.26 L105.12,400.25 L106.51,400.25 L107.90,400.24 L109.29,400.23 L110.68,400.21 L112.07,400.20 L113.46,400.19 L114.85,400.18 L116.24,400.16 L117.63,400.15 L119.02,400.13 L120.41,400.11 L121.80,400.09 L123.19,400.07 L124.58,400.05 L125.97,400.03 L127.37,400.00 L128.76,399.98 L130.15,399.95 L131.54,399.92 L132.93,399.89 L134.32,399.85 L135.71,399.81 L137.10,399.77 L138.49,399.73 L139.88,399.69 L141.27,399.64 L142.66,399.59 L144.05,399.54 L145.44,399.48 L146.83,399.42 L148.22,399.36 L149.61,399.29 L151.00,399.22 L152.39,399.14 L153.78,399.06 L155.17,398.98 L156.56,398.89 L157.96,398.80 L159.35,398.71 L160.74,398.61 L162.13,398.50 L163.52,398.39 L164.91,398.28 L166.30,398.16 L167.69,398.04 L169.08,397.91 L170.47,397.78 L171.86,397.65 L173.25,397.51 L174.64,397.37 L176.03,397.23 L177.42,397.08 L178.81,396.93 L180.20,396.77 L181.59,396.62 L182.98,396.46 L184.37,396.30 L185.76,396.14 L187.15,395.98 L188.55,395.81 L189.94,395.65 L191.33,395.49 L192.72,395.33 L194.11,395.17 L195.50,395.01 L196.89,394.85 L198.28,394.69 L199.67,394.54 L201.06,394.39 L202.45,394.24 L203.84,394.10 L205.23,393.96 L206.62,393.82 L208.01,393.69 L209.40,393.56 L210.79,393.43 L212.18,393.31 L213.57,393.19 L214.96,393.08 L216.35,392.97 L217.74,392.87 L219.14,392.77 L220.53,392.67 L221.92,392.58 L223.31,392.50 L224.70,392.41 L226.09,392.34 L227.48,392.26 L228.87,392.19 L230.26,392.12 L231.65,392.06 L233.04,392.00 L234.43,391.95 L235.82,391.89 L237.21,391.84 L238.60,391.80 L239.99,391.75 L241.38,391.71 L242.77,391.67 L244.16,391.64 L245.55,391.60 L246.94,391.57 L248.33,391.54 L249.73,391.51 L251.12,391.48 L252.51,391.46 L253.90,391.44 L255.29,391.41 L256.68,391.39 L258.07,391.38 L259.46,391.36 L260.85,391.34 L262.24,391.33 L263.63,391.31 L265.02,391.30 L266.41,391.29 L267.80,391.28 L269.19,391.26 L270.58,391.25 L271.97,391.25 L273.36,391.24 L274.75,391.23 L276.14,391.22 L277.53,391.21 L278.92,391.21 L280.32,391.20 L281.71,391.20 L283.10,391.19 L284.49,391.19 L285.88,391.18 L287.27,391.18 L288.66,391.17 L290.05,391.17 L291.44,391.17 L292.83,391.16 L294.22,391.16 L295.61,391.16 L297.00,391.16 L298.39,391.15 L299.78,391.15 L301.17,391.15 L302.56,391.15 L303.95,391.15 L305.34,391.14 L306.73,391.14 L308.12,391.14 L309.51,391.14 L310.91,391.14 L312.30,391.14 L313.69,391.14 L315.08,391.13 L316.47,391.13 L317.86,391.13 L319.25,391.13 L320.64,391.13 L322.03,391.13 L323.42,391.13 L324.81,391.13 L326.20,391.13" fill="none" stroke="#7cbde0" stroke-width="1.05" stroke-linejoin="round"/><path d="M49.50,430.41 L50.89,430.41 L52.28,430.41 L53.67,430.40 L55.06,430.40 L56.45,430.40 L57.84,430.40 L59.23,430.39 L60.62,430.39 L62.01,430.39 L63.40,430.38 L64.79,430.38 L66.19,430.37 L67.58,430.37 L68.97,430.36 L70.36,430.36 L71.75,430.35 L73.14,430.35 L74.53,430.34 L75.92,430.33 L77.31,430.33 L78.70,430.32 L80.09,430.31 L81.48,430.30 L82.87,430.29 L84.26,430.28 L85.65,430.26 L87.04,430.25 L88.43,430.24 L89.82,430.22 L91.21,430.21 L92.60,430.19 L93.99,430.17 L95.38,430.15 L96.78,430.13 L98.17,430.11 L99.56,430.08 L100.95,430.06 L102.34,430.03 L103.73,430.00 L105.12,429.96 L106.51,429.93 L107.90,429.89 L109.29,429.85 L110.68,429.81 L112.07,429.77 L113.46,429.72 L114.85,429.67 L116.24,429.61 L117.63,429.55 L119.02,429.49 L120.41,429.42 L121.80,429.35 L123.19,429.28 L124.58,429.20 L125.97,429.12 L127.37,429.03 L128.76,428.93 L130.15,428.83 L131.54,428.73 L132.93,428.62 L134.32,428.50 L135.71,428.38 L137.10,428.26 L138.49,428.12 L139.88,427.99 L141.27,427.84 L142.66,427.69 L144.05,427.53 L145.44,427.37 L146.83,427.20 L148.22,427.03 L149.61,426.85 L151.00,426.66 L152.39,426.47 L153.78,426.28 L155.17,426.08 L156.56,425.87 L157.96,425.66 L159.35,425.45 L160.74,425.23 L162.13,425.01 L163.52,424.79 L164.91,424.57 L166.30,424.34 L167.69,424.12 L169.08,423.89 L170.47,423.66 L171.86,423.43 L173.25,423.20 L174.64,422.98 L176.03,422.75 L177.42,422.53 L178.81,422.31 L180.20,422.09 L181.59,421.88 L182.98,421.67 L184.37,421.46 L185.76,421.26 L187.15,421.06 L188.55,420.87 L189.94,420.68 L191.33,420.50 L192.72,420.32 L194.11,420.15 L195.50,419.99 L196.89,419.83 L198.28,419.67 L199.67,419.53 L201.06,419.38 L202.45,419.25 L203.84,419.12 L205.23,419.00 L206.62,418.88 L208.01,418.77 L209.40,418.66 L210.79,418.56 L212.18,418.46 L213.57,418.37 L214.96,418.29 L216.35,418.21 L217.74,418.13 L219.14,418.06 L220.53,417.99 L221.92,417.92 L223.31,417.86 L224.70,417.81 L226.09,417.75 L227.48,417.71 L228.87,417.66 L230.26,417.62 L231.65,417.57 L233.04,417.54 L234.43,417.50 L235.82,417.47 L237.21,417.44 L238.60,417.41 L239.99,417.38 L241.38,417.35 L242.77,417.33 L244.16,417.31 L245.55,417.29 L246.94,417.27 L248.33,417.25 L249.73,417.23 L251.12,417.22 L252.51,417.20 L253.90,417.19 L255.29,417.18 L256.68,417.17 L258.07,417.16 L259.46,417.15 L260.85,417.14 L262.24,417.13 L263.63,417.12 L265.02,417.11 L266.41,417.11 L267.80,417.10 L269.19,417.09 L270.58,417.09 L271.97,417.08 L273.36,417.08 L274.75,417.07 L276.14,417.07 L277.53,417.07 L278.92,417.06 L280.32,417.06 L281.71,417.06 L283.10,417.05 L284.49,417.05 L285.88,417.05 L287.27,417.05 L288.66,417.04 L290.05,417.04 L291.44,417.04 L292.83,417.04 L294.22,417.04 L295.61,417.04 L297.00,417.03 L298.39,417.03 L299.78,417.03 L301.17,417.03 L302.56,417.03 L303.95,417.03 L305.34,417.03 L306.73,417.03 L308.12,417.03 L309.51,417.03 L310.91,417.02 L312.30,417.02 L313.69,417.02 L315.08,417.02 L316.47,417.02 L317.86,417.02 L319.25,417.02 L320.64,417.02 L322.03,417.02 L323.42,417.02 L324.81,417.02 L326.20,417.02" fill="none" stroke="#7cbde0" stroke-width="1.05" stroke-linejoin="round"/><path d="M49.50,432.30v-3.2M49.50,267.40v3.2M63.38,432.30v-1.4M63.38,267.40v1.4M71.50,432.30v-1.4M71.50,267.40v1.4M77.26,432.30v-1.4M77.26,267.40v1.4M81.73,432.30v-1.4M81.73,267.40v1.4M85.39,432.30v-1.4M85.39,267.40v1.4M88.47,432.30v-1.4M88.47,267.40v1.4M91.15,432.30v-1.4M91.15,267.40v1.4M93.51,432.30v-1.4M93.51,267.40v1.4M95.62,432.30v-3.2M95.62,267.40v3.2M109.50,432.30v-1.4M109.50,267.40v1.4M117.62,432.30v-1.4M117.62,267.40v1.4M123.38,432.30v-1.4M123.38,267.40v1.4M127.85,432.30v-1.4M127.85,267.40v1.4M131.50,432.30v-1.4M131.50,267.40v1.4M134.59,432.30v-1.4M134.59,267.40v1.4M137.26,432.30v-1.4M137.26,267.40v1.4M139.62,432.30v-1.4M139.62,267.40v1.4M141.73,432.30v-3.2M141.73,267.40v3.2M155.62,432.30v-1.4M155.62,267.40v1.4M163.74,432.30v-1.4M163.74,267.40v1.4M169.50,432.30v-1.4M169.50,267.40v1.4M173.97,432.30v-1.4M173.97,267.40v1.4M177.62,432.30v-1.4M177.62,267.40v1.4M180.71,432.30v-1.4M180.71,267.40v1.4M183.38,432.30v-1.4M183.38,267.40v1.4M185.74,432.30v-1.4M185.74,267.40v1.4M187.85,432.30v-3.2M187.85,267.40v3.2M201.73,432.30v-1.4M201.73,267.40v1.4M209.85,432.30v-1.4M209.85,267.40v1.4M215.61,432.30v-1.4M215.61,267.40v1.4M220.08,432.30v-1.4M220.08,267.40v1.4M223.74,432.30v-1.4M223.74,267.40v1.4M226.82,432.30v-1.4M226.82,267.40v1.4M229.50,432.30v-1.4M229.50,267.40v1.4M231.86,432.30v-1.4M231.86,267.40v1.4M233.97,432.30v-3.2M233.97,267.40v3.2M247.85,432.30v-1.4M247.85,267.40v1.4M255.97,432.30v-1.4M255.97,267.40v1.4M261.73,432.30v-1.4M261.73,267.40v1.4M266.20,432.30v-1.4M266.20,267.40v1.4M269.85,432.30v-1.4M269.85,267.40v1.4M272.94,432.30v-1.4M272.94,267.40v1.4M275.61,432.30v-1.4M275.61,267.40v1.4M277.97,432.30v-1.4M277.97,267.40v1.4M280.08,432.30v-3.2M280.08,267.40v3.2M293.97,432.30v-1.4M293.97,267.40v1.4M302.09,432.30v-1.4M302.09,267.40v1.4M307.85,432.30v-1.4M307.85,267.40v1.4M312.32,432.30v-1.4M312.32,267.40v1.4M315.97,432.30v-1.4M315.97,267.40v1.4M319.06,432.30v-1.4M319.06,267.40v1.4M321.73,432.30v-1.4M321.73,267.40v1.4M324.09,432.30v-1.4M324.09,267.40v1.4M326.20,432.30v-3.2M326.20,267.40v3.2M49.50,432.30h3.2M326.20,432.30h-3.2M49.50,424.03h1.4M326.20,424.03h-1.4M49.50,419.19h1.4M326.20,419.19h-1.4M49.50,415.75h1.4M326.20,415.75h-1.4M49.50,413.09h1.4M326.20,413.09h-1.4M49.50,410.91h1.4M326.20,410.91h-1.4M49.50,409.07h1.4M326.20,409.07h-1.4M49.50,407.48h1.4M326.20,407.48h-1.4M49.50,406.07h1.4M326.20,406.07h-1.4M49.50,404.82h3.2M326.20,404.82h-3.2M49.50,396.54h1.4M326.20,396.54h-1.4M49.50,391.70h1.4M326.20,391.70h-1.4M49.50,388.27h1.4M326.20,388.27h-1.4M49.50,385.61h1.4M326.20,385.61h-1.4M49.50,383.43h1.4M326.20,383.43h-1.4M49.50,381.59h1.4M326.20,381.59h-1.4M49.50,380.00h1.4M326.20,380.00h-1.4M49.50,378.59h1.4M326.20,378.59h-1.4M49.50,377.33h3.2M326.20,377.33h-3.2M49.50,369.06h1.4M326.20,369.06h-1.4M49.50,364.22h1.4M326.20,364.22h-1.4M49.50,360.79h1.4M326.20,360.79h-1.4M49.50,358.12h1.4M326.20,358.12h-1.4M49.50,355.95h1.4M326.20,355.95h-1.4M49.50,354.11h1.4M326.20,354.11h-1.4M49.50,352.51h1.4M326.20,352.51h-1.4M49.50,351.11h1.4M326.20,351.11h-1.4M49.50,349.85h3.2M326.20,349.85h-3.2M49.50,341.58h1.4M326.20,341.58h-1.4M49.50,336.74h1.4M326.20,336.74h-1.4M49.50,333.30h1.4M326.20,333.30h-1.4M49.50,330.64h1.4M326.20,330.64h-1.4M49.50,328.46h1.4M326.20,328.46h-1.4M49.50,326.62h1.4M326.20,326.62h-1.4M49.50,325.03h1.4M326.20,325.03h-1.4M49.50,323.62h1.4M326.20,323.62h-1.4M49.50,322.37h3.2M326.20,322.37h-3.2M49.50,314.09h1.4M326.20,314.09h-1.4M49.50,309.25h1.4M326.20,309.25h-1.4M49.50,305.82h1.4M326.20,305.82h-1.4M49.50,303.16h1.4M326.20,303.16h-1.4M49.50,300.98h1.4M326.20,300.98h-1.4M49.50,299.14h1.4M326.20,299.14h-1.4M49.50,297.55h1.4M326.20,297.55h-1.4M49.50,296.14h1.4M326.20,296.14h-1.4M49.50,294.88h3.2M326.20,294.88h-3.2M49.50,286.61h1.4M326.20,286.61h-1.4M49.50,281.77h1.4M326.20,281.77h-1.4M49.50,278.34h1.4M326.20,278.34h-1.4M49.50,275.67h1.4M326.20,275.67h-1.4M49.50,273.50h1.4M326.20,273.50h-1.4M49.50,271.66h1.4M326.20,271.66h-1.4M49.50,270.06h1.4M326.20,270.06h-1.4M49.50,268.66h1.4M326.20,268.66h-1.4M49.50,267.40h3.2M326.20,267.40h-3.2" stroke="#686868" stroke-width="0.9" fill="none"/><rect x="49.50" y="267.40" width="276.70" height="164.90" fill="none" stroke="#686868" stroke-width="1.2"/><text x="49.50" y="447.70" font-size="11" text-anchor="middle">10<tspan dy="-5.2" font-size="8.8">-12</tspan></text><text x="95.62" y="447.70" font-size="11" text-anchor="middle">10<tspan dy="-5.2" font-size="8.8">-11</tspan></text><text x="141.73" y="447.70" font-size="11" text-anchor="middle">10<tspan dy="-5.2" font-size="8.8">-10</tspan></text><text x="187.85" y="447.70" font-size="11" text-anchor="middle">10<tspan dy="-5.2" font-size="8.8">-9</tspan></text><text x="233.97" y="447.70" font-size="11" text-anchor="middle">10<tspan dy="-5.2" font-size="8.8">-8</tspan></text><text x="280.08" y="447.70" font-size="11" text-anchor="middle">10<tspan dy="-5.2" font-size="8.8">-7</tspan></text><text x="326.20" y="447.70" font-size="11" text-anchor="middle">10<tspan dy="-5.2" font-size="8.8">-6</tspan></text><text x="42.90" y="436.90" font-size="11" text-anchor="end">10<tspan dy="-5.2" font-size="8.8">-11</tspan></text><text x="42.90" y="409.42" font-size="11" text-anchor="end">10<tspan dy="-5.2" font-size="8.8">-10</tspan></text><text x="42.90" y="381.93" font-size="11" text-anchor="end">10<tspan dy="-5.2" font-size="8.8">-9</tspan></text><text x="42.90" y="354.45" font-size="11" text-anchor="end">10<tspan dy="-5.2" font-size="8.8">-8</tspan></text><text x="42.90" y="326.97" font-size="11" text-anchor="end">10<tspan dy="-5.2" font-size="8.8">-7</tspan></text><text x="42.90" y="299.48" font-size="11" text-anchor="end">10<tspan dy="-5.2" font-size="8.8">-6</tspan></text><text x="42.90" y="272.00" font-size="11" text-anchor="end">10<tspan dy="-5.2" font-size="8.8">-5</tspan></text><text x="187.85" y="251.90" font-size="13.5" text-anchor="middle">m<tspan dy="3.6" font-size="9.8">1</tspan><tspan dy="-3.6">=0.01, E=6 MeV</tspan></text><text x="187.85" y="462.30" font-size="13" text-anchor="middle">ρ/ρ<tspan dy="4.6" font-size="10">0</tspan></text><text transform="translate(10.60,349.85) rotate(-90)" x="0" y="0" font-size="13.4" text-anchor="middle">m<tspan dy="3.6" font-size="10">i</tspan><tspan dy="-3.6"> [eV]</tspan></text></g>
<g><path d="M396.10,385.48 L397.49,385.48 L398.88,385.48 L400.26,385.48 L401.65,385.48 L403.04,385.48 L404.43,385.48 L405.82,385.48 L407.20,385.48 L408.59,385.48 L409.98,385.48 L411.37,385.48 L412.76,385.48 L414.14,385.47 L415.53,385.47 L416.92,385.47 L418.31,385.47 L419.69,385.47 L421.08,385.47 L422.47,385.47 L423.86,385.46 L425.25,385.46 L426.63,385.46 L428.02,385.46 L429.41,385.46 L430.80,385.45 L432.19,385.45 L433.57,385.45 L434.96,385.45 L436.35,385.44 L437.74,385.44 L439.13,385.43 L440.51,385.43 L441.90,385.43 L443.29,385.42 L444.68,385.42 L446.07,385.41 L447.45,385.41 L448.84,385.40 L450.23,385.39 L451.62,385.39 L453.01,385.38 L454.39,385.37 L455.78,385.36 L457.17,385.35 L458.56,385.34 L459.95,385.33 L461.33,385.32 L462.72,385.31 L464.11,385.30 L465.50,385.28 L466.88,385.27 L468.27,385.25 L469.66,385.23 L471.05,385.22 L472.44,385.20 L473.82,385.18 L475.21,385.15 L476.60,385.13 L477.99,385.10 L479.38,385.08 L480.76,385.05 L482.15,385.01 L483.54,384.98 L484.93,384.95 L486.32,384.91 L487.70,384.87 L489.09,384.82 L490.48,384.77 L491.87,384.72 L493.26,384.67 L494.64,384.61 L496.03,384.55 L497.42,384.49 L498.81,384.42 L500.20,384.34 L501.58,384.27 L502.97,384.18 L504.36,384.09 L505.75,384.00 L507.14,383.89 L508.52,383.79 L509.91,383.67 L511.30,383.55 L512.69,383.42 L514.07,383.28 L515.46,383.13 L516.85,382.98 L518.24,382.81 L519.63,382.64 L521.01,382.46 L522.40,382.26 L523.79,382.05 L525.18,381.84 L526.57,381.61 L527.95,381.36 L529.34,381.11 L530.73,380.84 L532.12,380.56 L533.51,380.26 L534.89,379.95 L536.28,379.62 L537.67,379.28 L539.06,378.93 L540.45,378.55 L541.83,378.16 L543.22,377.76 L544.61,377.33 L546.00,376.90 L547.39,376.44 L548.77,375.97 L550.16,375.48 L551.55,374.97 L552.94,374.44 L554.33,373.90 L555.71,373.34 L557.10,372.77 L558.49,372.17 L559.88,371.57 L561.26,370.94 L562.65,370.30 L564.04,369.64 L565.43,368.97 L566.82,368.29 L568.20,367.59 L569.59,366.87 L570.98,366.15 L572.37,365.41 L573.76,364.65 L575.14,363.89 L576.53,363.11 L577.92,362.32 L579.31,361.52 L580.70,360.71 L582.08,359.89 L583.47,359.06 L584.86,358.23 L586.25,357.38 L587.64,356.52 L589.02,355.66 L590.41,354.79 L591.80,353.92 L593.19,353.03 L594.58,352.14 L595.96,351.25 L597.35,350.34 L598.74,349.44 L600.13,348.53 L601.52,347.61 L602.90,346.69 L604.29,345.76 L605.68,344.83 L607.07,343.90 L608.45,342.96 L609.84,342.02 L611.23,341.08 L612.62,340.14 L614.01,339.19 L615.39,338.24 L616.78,337.28 L618.17,336.33 L619.56,335.37 L620.95,334.41 L622.33,333.45 L623.72,332.49 L625.11,331.52 L626.50,330.56 L627.89,329.59 L629.27,328.62 L630.66,327.65 L632.05,326.68 L633.44,325.71 L634.83,324.73 L636.21,323.76 L637.60,322.78 L638.99,321.81 L640.38,320.83 L641.77,319.85 L643.15,318.87 L644.54,317.89 L645.93,316.91 L647.32,315.93 L648.71,314.95 L650.09,313.97 L651.48,312.99 L652.87,312.01 L654.26,311.03 L655.64,310.05 L657.03,309.06 L658.42,308.08 L659.81,307.10 L661.20,306.11 L662.58,305.13 L663.97,304.14 L665.36,303.16 L666.75,302.17 L668.14,301.19 L669.52,300.20 L670.91,299.22 L672.30,298.23" fill="none" stroke="#7cbde0" stroke-width="1.05" stroke-linejoin="round"/><path d="M396.10,417.47 L397.49,417.47 L398.88,417.47 L400.26,417.47 L401.65,417.47 L403.04,417.46 L404.43,417.46 L405.82,417.46 L407.20,417.46 L408.59,417.46 L409.98,417.46 L411.37,417.46 L412.76,417.46 L414.14,417.46 L415.53,417.46 L416.92,417.46 L418.31,417.46 L419.69,417.46 L421.08,417.46 L422.47,417.46 L423.86,417.46 L425.25,417.46 L426.63,417.46 L428.02,417.45 L429.41,417.45 L430.80,417.45 L432.19,417.45 L433.57,417.45 L434.96,417.45 L436.35,417.45 L437.74,417.45 L439.13,417.44 L440.51,417.44 L441.90,417.44 L443.29,417.44 L444.68,417.43 L446.07,417.43 L447.45,417.43 L448.84,417.43 L450.23,417.42 L451.62,417.42 L453.01,417.42 L454.39,417.41 L455.78,417.41 L457.17,417.40 L458.56,417.40 L459.95,417.39 L461.33,417.39 L462.72,417.38 L464.11,417.37 L465.50,417.37 L466.88,417.36 L468.27,417.35 L469.66,417.34 L471.05,417.33 L472.44,417.32 L473.82,417.31 L475.21,417.30 L476.60,417.28 L477.99,417.27 L479.38,417.26 L480.76,417.24 L482.15,417.22 L483.54,417.20 L484.93,417.19 L486.32,417.16 L487.70,417.14 L489.09,417.12 L490.48,417.09 L491.87,417.07 L493.26,417.04 L494.64,417.01 L496.03,416.97 L497.42,416.94 L498.81,416.90 L500.20,416.86 L501.58,416.82 L502.97,416.78 L504.36,416.73 L505.75,416.68 L507.14,416.63 L508.52,416.58 L509.91,416.52 L511.30,416.46 L512.69,416.40 L514.07,416.33 L515.46,416.27 L516.85,416.19 L518.24,416.12 L519.63,416.04 L521.01,415.96 L522.40,415.88 L523.79,415.80 L525.18,415.71 L526.57,415.62 L527.95,415.53 L529.34,415.43 L530.73,415.34 L532.12,415.24 L533.51,415.14 L534.89,415.04 L536.28,414.94 L537.67,414.84 L539.06,414.74 L540.45,414.64 L541.83,414.54 L543.22,414.44 L544.61,414.34 L546.00,414.24 L547.39,414.14 L548.77,414.05 L550.16,413.95 L551.55,413.86 L552.94,413.77 L554.33,413.69 L555.71,413.60 L557.10,413.52 L558.49,413.44 L559.88,413.37 L561.26,413.29 L562.65,413.22 L564.04,413.16 L565.43,413.09 L566.82,413.03 L568.20,412.97 L569.59,412.92 L570.98,412.86 L572.37,412.81 L573.76,412.76 L575.14,412.72 L576.53,412.68 L577.92,412.64 L579.31,412.60 L580.70,412.56 L582.08,412.53 L583.47,412.50 L584.86,412.47 L586.25,412.44 L587.64,412.41 L589.02,412.39 L590.41,412.36 L591.80,412.34 L593.19,412.32 L594.58,412.30 L595.96,412.29 L597.35,412.27 L598.74,412.25 L600.13,412.24 L601.52,412.23 L602.90,412.21 L604.29,412.20 L605.68,412.19 L607.07,412.18 L608.45,412.17 L609.84,412.16 L611.23,412.15 L612.62,412.15 L614.01,412.14 L615.39,412.13 L616.78,412.13 L618.17,412.12 L619.56,412.12 L620.95,412.11 L622.33,412.11 L623.72,412.10 L625.11,412.10 L626.50,412.09 L627.89,412.09 L629.27,412.09 L630.66,412.08 L632.05,412.08 L633.44,412.08 L634.83,412.08 L636.21,412.07 L637.60,412.07 L638.99,412.07 L640.38,412.07 L641.77,412.07 L643.15,412.07 L644.54,412.06 L645.93,412.06 L647.32,412.06 L648.71,412.06 L650.09,412.06 L651.48,412.06 L652.87,412.06 L654.26,412.06 L655.64,412.06 L657.03,412.06 L658.42,412.05 L659.81,412.05 L661.20,412.05 L662.58,412.05 L663.97,412.05 L665.36,412.05 L666.75,412.05 L668.14,412.05 L669.52,412.05 L670.91,412.05 L672.30,412.05" fill="none" stroke="#7cbde0" stroke-width="1.05" stroke-linejoin="round"/><path d="M396.10,424.49 L397.49,424.49 L398.88,424.49 L400.26,424.49 L401.65,424.49 L403.04,424.49 L404.43,424.49 L405.82,424.49 L407.20,424.49 L408.59,424.49 L409.98,424.49 L411.37,424.49 L412.76,424.49 L414.14,424.49 L415.53,424.49 L416.92,424.49 L418.31,424.49 L419.69,424.48 L421.08,424.48 L422.47,424.48 L423.86,424.48 L425.25,424.48 L426.63,424.48 L428.02,424.48 L429.41,424.48 L430.80,424.48 L432.19,424.48 L433.57,424.48 L434.96,424.48 L436.35,424.48 L437.74,424.48 L439.13,424.48 L440.51,424.48 L441.90,424.48 L443.29,424.48 L444.68,424.47 L446.07,424.47 L447.45,424.47 L448.84,424.47 L450.23,424.47 L451.62,424.47 L453.01,424.47 L454.39,424.46 L455.78,424.46 L457.17,424.46 L458.56,424.46 L459.95,424.46 L461.33,424.45 L462.72,424.45 L464.11,424.45 L465.50,424.44 L466.88,424.44 L468.27,424.43 L469.66,424.43 L471.05,424.43 L472.44,424.42 L473.82,424.41 L475.21,424.41 L476.60,424.40 L477.99,424.39 L479.38,424.39 L480.76,424.38 L482.15,424.37 L483.54,424.36 L484.93,424.35 L486.32,424.34 L487.70,424.33 L489.09,424.31 L490.48,424.30 L491.87,424.28 L493.26,424.27 L494.64,424.25 L496.03,424.24 L497.42,424.22 L498.81,424.20 L500.20,424.18 L501.58,424.16 L502.97,424.13 L504.36,424.11 L505.75,424.09 L507.14,424.06 L508.52,424.04 L509.91,424.01 L511.30,423.98 L512.69,423.95 L514.07,423.92 L515.46,423.90 L516.85,423.87 L518.24,423.84 L519.63,423.81 L521.01,423.78 L522.40,423.75 L523.79,423.72 L525.18,423.69 L526.57,423.66 L527.95,423.63 L529.34,423.60 L530.73,423.57 L532.12,423.55 L533.51,423.52 L534.89,423.50 L536.28,423.47 L537.67,423.45 L539.06,423.43 L540.45,423.40 L541.83,423.38 L543.22,423.36 L544.61,423.35 L546.00,423.33 L547.39,423.31 L548.77,423.30 L550.16,423.28 L551.55,423.27 L552.94,423.26 L554.33,423.24 L555.71,423.23 L557.10,423.22 L558.49,423.21 L559.88,423.20 L561.26,423.19 L562.65,423.19 L564.04,423.18 L565.43,423.17 L566.82,423.17 L568.20,423.16 L569.59,423.15 L570.98,423.15 L572.37,423.15 L573.76,423.14 L575.14,423.14 L576.53,423.13 L577.92,423.13 L579.31,423.13 L580.70,423.12 L582.08,423.12 L583.47,423.12 L584.86,423.12 L586.25,423.11 L587.64,423.11 L589.02,423.11 L590.41,423.11 L591.80,423.11 L593.19,423.11 L594.58,423.11 L595.96,423.10 L597.35,423.10 L598.74,423.10 L600.13,423.10 L601.52,423.10 L602.90,423.10 L604.29,423.10 L605.68,423.10 L607.07,423.10 L608.45,423.10 L609.84,423.10 L611.23,423.10 L612.62,423.10 L614.01,423.10 L615.39,423.10 L616.78,423.10 L618.17,423.10 L619.56,423.09 L620.95,423.09 L622.33,423.09 L623.72,423.09 L625.11,423.09 L626.50,423.09 L627.89,423.09 L629.27,423.09 L630.66,423.09 L632.05,423.09 L633.44,423.09 L634.83,423.09 L636.21,423.09 L637.60,423.09 L638.99,423.09 L640.38,423.09 L641.77,423.09 L643.15,423.09 L644.54,423.09 L645.93,423.09 L647.32,423.09 L648.71,423.09 L650.09,423.09 L651.48,423.09 L652.87,423.09 L654.26,423.09 L655.64,423.09 L657.03,423.09 L658.42,423.09 L659.81,423.09 L661.20,423.09 L662.58,423.09 L663.97,423.09 L665.36,423.09 L666.75,423.09 L668.14,423.09 L669.52,423.09 L670.91,423.09 L672.30,423.09" fill="none" stroke="#7cbde0" stroke-width="1.05" stroke-linejoin="round"/><path d="M396.10,435.20v-3.2M396.10,271.40v3.2M409.96,435.20v-1.4M409.96,271.40v1.4M418.06,435.20v-1.4M418.06,271.40v1.4M423.81,435.20v-1.4M423.81,271.40v1.4M428.28,435.20v-1.4M428.28,271.40v1.4M431.92,435.20v-1.4M431.92,271.40v1.4M435.00,435.20v-1.4M435.00,271.40v1.4M437.67,435.20v-1.4M437.67,271.40v1.4M440.03,435.20v-1.4M440.03,271.40v1.4M442.13,435.20v-3.2M442.13,271.40v3.2M455.99,435.20v-1.4M455.99,271.40v1.4M464.10,435.20v-1.4M464.10,271.40v1.4M469.85,435.20v-1.4M469.85,271.40v1.4M474.31,435.20v-1.4M474.31,271.40v1.4M477.95,435.20v-1.4M477.95,271.40v1.4M481.04,435.20v-1.4M481.04,271.40v1.4M483.71,435.20v-1.4M483.71,271.40v1.4M486.06,435.20v-1.4M486.06,271.40v1.4M488.17,435.20v-3.2M488.17,271.40v3.2M502.02,435.20v-1.4M502.02,271.40v1.4M510.13,435.20v-1.4M510.13,271.40v1.4M515.88,435.20v-1.4M515.88,271.40v1.4M520.34,435.20v-1.4M520.34,271.40v1.4M523.99,435.20v-1.4M523.99,271.40v1.4M527.07,435.20v-1.4M527.07,271.40v1.4M529.74,435.20v-1.4M529.74,271.40v1.4M532.09,435.20v-1.4M532.09,271.40v1.4M534.20,435.20v-3.2M534.20,271.40v3.2M548.06,435.20v-1.4M548.06,271.40v1.4M556.16,435.20v-1.4M556.16,271.40v1.4M561.91,435.20v-1.4M561.91,271.40v1.4M566.38,435.20v-1.4M566.38,271.40v1.4M570.02,435.20v-1.4M570.02,271.40v1.4M573.10,435.20v-1.4M573.10,271.40v1.4M575.77,435.20v-1.4M575.77,271.40v1.4M578.13,435.20v-1.4M578.13,271.40v1.4M580.23,435.20v-3.2M580.23,271.40v3.2M594.09,435.20v-1.4M594.09,271.40v1.4M602.20,435.20v-1.4M602.20,271.40v1.4M607.95,435.20v-1.4M607.95,271.40v1.4M612.41,435.20v-1.4M612.41,271.40v1.4M616.05,435.20v-1.4M616.05,271.40v1.4M619.14,435.20v-1.4M619.14,271.40v1.4M621.81,435.20v-1.4M621.81,271.40v1.4M624.16,435.20v-1.4M624.16,271.40v1.4M626.27,435.20v-3.2M626.27,271.40v3.2M640.12,435.20v-1.4M640.12,271.40v1.4M648.23,435.20v-1.4M648.23,271.40v1.4M653.98,435.20v-1.4M653.98,271.40v1.4M658.44,435.20v-1.4M658.44,271.40v1.4M662.09,435.20v-1.4M662.09,271.40v1.4M665.17,435.20v-1.4M665.17,271.40v1.4M667.84,435.20v-1.4M667.84,271.40v1.4M670.19,435.20v-1.4M670.19,271.40v1.4M672.30,435.20v-3.2M672.30,271.40v3.2M396.10,435.20h3.2M672.30,435.20h-3.2M396.10,425.34h1.4M672.30,425.34h-1.4M396.10,419.57h1.4M672.30,419.57h-1.4M396.10,415.48h1.4M672.30,415.48h-1.4M396.10,412.30h1.4M672.30,412.30h-1.4M396.10,409.71h1.4M672.30,409.71h-1.4M396.10,407.51h1.4M672.30,407.51h-1.4M396.10,405.61h1.4M672.30,405.61h-1.4M396.10,403.94h1.4M672.30,403.94h-1.4M396.10,402.44h3.2M672.30,402.44h-3.2M396.10,392.58h1.4M672.30,392.58h-1.4M396.10,386.81h1.4M672.30,386.81h-1.4M396.10,382.72h1.4M672.30,382.72h-1.4M396.10,379.54h1.4M672.30,379.54h-1.4M396.10,376.95h1.4M672.30,376.95h-1.4M396.10,374.75h1.4M672.30,374.75h-1.4M396.10,372.85h1.4M672.30,372.85h-1.4M396.10,371.18h1.4M672.30,371.18h-1.4M396.10,369.68h3.2M672.30,369.68h-3.2M396.10,359.82h1.4M672.30,359.82h-1.4M396.10,354.05h1.4M672.30,354.05h-1.4M396.10,349.96h1.4M672.30,349.96h-1.4M396.10,346.78h1.4M672.30,346.78h-1.4M396.10,344.19h1.4M672.30,344.19h-1.4M396.10,341.99h1.4M672.30,341.99h-1.4M396.10,340.09h1.4M672.30,340.09h-1.4M396.10,338.42h1.4M672.30,338.42h-1.4M396.10,336.92h3.2M672.30,336.92h-3.2M396.10,327.06h1.4M672.30,327.06h-1.4M396.10,321.29h1.4M672.30,321.29h-1.4M396.10,317.20h1.4M672.30,317.20h-1.4M396.10,314.02h1.4M672.30,314.02h-1.4M396.10,311.43h1.4M672.30,311.43h-1.4M396.10,309.23h1.4M672.30,309.23h-1.4M396.10,307.33h1.4M672.30,307.33h-1.4M396.10,305.66h1.4M672.30,305.66h-1.4M396.10,304.16h3.2M672.30,304.16h-3.2M396.10,294.30h1.4M672.30,294.30h-1.4M396.10,288.53h1.4M672.30,288.53h-1.4M396.10,284.44h1.4M672.30,284.44h-1.4M396.10,281.26h1.4M672.30,281.26h-1.4M396.10,278.67h1.4M672.30,278.67h-1.4M396.10,276.47h1.4M672.30,276.47h-1.4M396.10,274.57h1.4M672.30,274.57h-1.4M396.10,272.90h1.4M672.30,272.90h-1.4M396.10,271.40h3.2M672.30,271.40h-3.2" stroke="#686868" stroke-width="0.9" fill="none"/><rect x="396.10" y="271.40" width="276.20" height="163.80" fill="none" stroke="#686868" stroke-width="1.2"/><text x="396.10" y="450.60" font-size="11" text-anchor="middle">10<tspan dy="-5.2" font-size="8.8">-12</tspan></text><text x="442.13" y="450.60" font-size="11" text-anchor="middle">10<tspan dy="-5.2" font-size="8.8">-11</tspan></text><text x="488.17" y="450.60" font-size="11" text-anchor="middle">10<tspan dy="-5.2" font-size="8.8">-10</tspan></text><text x="534.20" y="450.60" font-size="11" text-anchor="middle">10<tspan dy="-5.2" font-size="8.8">-9</tspan></text><text x="580.23" y="450.60" font-size="11" text-anchor="middle">10<tspan dy="-5.2" font-size="8.8">-8</tspan></text><text x="626.27" y="450.60" font-size="11" text-anchor="middle">10<tspan dy="-5.2" font-size="8.8">-7</tspan></text><text x="672.30" y="450.60" font-size="11" text-anchor="middle">10<tspan dy="-5.2" font-size="8.8">-6</tspan></text><text x="389.50" y="439.80" font-size="11" text-anchor="end">10<tspan dy="-5.2" font-size="8.8">-10</tspan></text><text x="389.50" y="407.04" font-size="11" text-anchor="end">10<tspan dy="-5.2" font-size="8.8">-9</tspan></text><text x="389.50" y="374.28" font-size="11" text-anchor="end">10<tspan dy="-5.2" font-size="8.8">-8</tspan></text><text x="389.50" y="341.52" font-size="11" text-anchor="end">10<tspan dy="-5.2" font-size="8.8">-7</tspan></text><text x="389.50" y="308.76" font-size="11" text-anchor="end">10<tspan dy="-5.2" font-size="8.8">-6</tspan></text><text x="389.50" y="276.00" font-size="11" text-anchor="end">10<tspan dy="-5.2" font-size="8.8">-5</tspan></text><text x="534.20" y="255.90" font-size="13.5" text-anchor="middle">m<tspan dy="3.6" font-size="9.8">1</tspan><tspan dy="-3.6">=0.05, E=6 MeV</tspan></text><text x="534.20" y="465.20" font-size="13" text-anchor="middle">ρ/ρ<tspan dy="4.6" font-size="10">0</tspan></text><text transform="translate(357.20,353.30) rotate(-90)" x="0" y="0" font-size="13.4" text-anchor="middle">m<tspan dy="3.6" font-size="10">i</tspan><tspan dy="-3.6"> [eV]</tspan></text></g>
<g><path d="M49.50,589.94 L50.89,589.94 L52.28,589.94 L53.67,589.94 L55.07,589.94 L56.46,589.94 L57.85,589.94 L59.24,589.94 L60.63,589.94 L62.02,589.94 L63.41,589.94 L64.81,589.94 L66.20,589.93 L67.59,589.93 L68.98,589.93 L70.37,589.93 L71.76,589.93 L73.15,589.93 L74.55,589.93 L75.94,589.93 L77.33,589.93 L78.72,589.92 L80.11,589.92 L81.50,589.92 L82.89,589.92 L84.29,589.92 L85.68,589.92 L87.07,589.91 L88.46,589.91 L89.85,589.91 L91.24,589.90 L92.64,589.90 L94.03,589.90 L95.42,589.90 L96.81,589.89 L98.20,589.89 L99.59,589.88 L100.98,589.88 L102.38,589.87 L103.77,589.87 L105.16,589.86 L106.55,589.86 L107.94,589.85 L109.33,589.84 L110.72,589.84 L112.12,589.83 L113.51,589.82 L114.90,589.81 L116.29,589.80 L117.68,589.79 L119.07,589.78 L120.46,589.77 L121.86,589.76 L123.25,589.74 L124.64,589.73 L126.03,589.71 L127.42,589.70 L128.81,589.68 L130.20,589.66 L131.60,589.64 L132.99,589.62 L134.38,589.59 L135.77,589.57 L137.16,589.54 L138.55,589.51 L139.94,589.48 L141.34,589.45 L142.73,589.42 L144.12,589.38 L145.51,589.34 L146.90,589.30 L148.29,589.25 L149.68,589.21 L151.08,589.15 L152.47,589.10 L153.86,589.04 L155.25,588.98 L156.64,588.91 L158.03,588.84 L159.43,588.77 L160.82,588.69 L162.21,588.60 L163.60,588.51 L164.99,588.42 L166.38,588.32 L167.77,588.21 L169.17,588.10 L170.56,587.97 L171.95,587.85 L173.34,587.71 L174.73,587.57 L176.12,587.42 L177.51,587.26 L178.91,587.09 L180.30,586.91 L181.69,586.72 L183.08,586.53 L184.47,586.32 L185.86,586.10 L187.25,585.88 L188.65,585.64 L190.04,585.39 L191.43,585.13 L192.82,584.86 L194.21,584.57 L195.60,584.28 L196.99,583.97 L198.39,583.65 L199.78,583.32 L201.17,582.97 L202.56,582.62 L203.95,582.25 L205.34,581.87 L206.73,581.47 L208.13,581.07 L209.52,580.65 L210.91,580.22 L212.30,579.78 L213.69,579.33 L215.08,578.87 L216.47,578.39 L217.87,577.91 L219.26,577.41 L220.65,576.91 L222.04,576.39 L223.43,575.87 L224.82,575.34 L226.22,574.79 L227.61,574.24 L229.00,573.68 L230.39,573.12 L231.78,572.54 L233.17,571.96 L234.56,571.37 L235.96,570.78 L237.35,570.17 L238.74,569.57 L240.13,568.95 L241.52,568.33 L242.91,567.71 L244.30,567.08 L245.70,566.45 L247.09,565.81 L248.48,565.17 L249.87,564.52 L251.26,563.87 L252.65,563.22 L254.04,562.56 L255.44,561.90 L256.83,561.24 L258.22,560.58 L259.61,559.91 L261.00,559.24 L262.39,558.57 L263.78,557.89 L265.18,557.22 L266.57,556.54 L267.96,555.86 L269.35,555.18 L270.74,554.49 L272.13,553.81 L273.52,553.12 L274.92,552.44 L276.31,551.75 L277.70,551.06 L279.09,550.37 L280.48,549.68 L281.87,548.98 L283.26,548.29 L284.66,547.60 L286.05,546.90 L287.44,546.20 L288.83,545.51 L290.22,544.81 L291.61,544.11 L293.01,543.42 L294.40,542.72 L295.79,542.02 L297.18,541.32 L298.57,540.62 L299.96,539.92 L301.35,539.22 L302.75,538.52 L304.14,537.82 L305.53,537.11 L306.92,536.41 L308.31,535.71 L309.70,535.01 L311.09,534.31 L312.49,533.60 L313.88,532.90 L315.27,532.20 L316.66,531.49 L318.05,530.79 L319.44,530.09 L320.83,529.38 L322.23,528.68 L323.62,527.98 L325.01,527.27 L326.40,526.57" fill="none" stroke="#7cbde0" stroke-width="1.05" stroke-linejoin="round"/><path d="M49.50,630.01 L50.89,630.01 L52.28,630.01 L53.67,630.01 L55.07,630.01 L56.46,630.01 L57.85,630.01 L59.24,630.01 L60.63,630.00 L62.02,630.00 L63.41,630.00 L64.81,630.00 L66.20,630.00 L67.59,630.00 L68.98,629.99 L70.37,629.99 L71.76,629.99 L73.15,629.98 L74.55,629.98 L75.94,629.98 L77.33,629.97 L78.72,629.97 L80.11,629.97 L81.50,629.96 L82.89,629.96 L84.29,629.95 L85.68,629.95 L87.07,629.94 L88.46,629.93 L89.85,629.93 L91.24,629.92 L92.64,629.91 L94.03,629.90 L95.42,629.89 L96.81,629.88 L98.20,629.87 L99.59,629.85 L100.98,629.84 L102.38,629.83 L103.77,629.81 L105.16,629.79 L106.55,629.77 L107.94,629.75 L109.33,629.73 L110.72,629.71 L112.12,629.68 L113.51,629.66 L114.90,629.63 L116.29,629.60 L117.68,629.56 L119.07,629.53 L120.46,629.49 L121.86,629.45 L123.25,629.40 L124.64,629.35 L126.03,629.30 L127.42,629.25 L128.81,629.19 L130.20,629.13 L131.60,629.06 L132.99,628.99 L134.38,628.91 L135.77,628.83 L137.16,628.75 L138.55,628.65 L139.94,628.56 L141.34,628.45 L142.73,628.35 L144.12,628.23 L145.51,628.11 L146.90,627.98 L148.29,627.85 L149.68,627.71 L151.08,627.56 L152.47,627.41 L153.86,627.25 L155.25,627.08 L156.64,626.91 L158.03,626.73 L159.43,626.54 L160.82,626.35 L162.21,626.15 L163.60,625.94 L164.99,625.73 L166.38,625.51 L167.77,625.29 L169.17,625.06 L170.56,624.82 L171.95,624.59 L173.34,624.34 L174.73,624.10 L176.12,623.85 L177.51,623.60 L178.91,623.34 L180.30,623.08 L181.69,622.83 L183.08,622.57 L184.47,622.31 L185.86,622.05 L187.25,621.79 L188.65,621.53 L190.04,621.27 L191.43,621.02 L192.82,620.76 L194.21,620.51 L195.60,620.26 L196.99,620.02 L198.39,619.78 L199.78,619.54 L201.17,619.31 L202.56,619.09 L203.95,618.87 L205.34,618.65 L206.73,618.44 L208.13,618.24 L209.52,618.04 L210.91,617.85 L212.30,617.67 L213.69,617.49 L215.08,617.32 L216.47,617.16 L217.87,617.00 L219.26,616.85 L220.65,616.71 L222.04,616.57 L223.43,616.44 L224.82,616.32 L226.22,616.20 L227.61,616.09 L229.00,615.99 L230.39,615.89 L231.78,615.79 L233.17,615.71 L234.56,615.62 L235.96,615.55 L237.35,615.47 L238.74,615.40 L240.13,615.34 L241.52,615.28 L242.91,615.22 L244.30,615.17 L245.70,615.12 L247.09,615.07 L248.48,615.03 L249.87,614.99 L251.26,614.95 L252.65,614.92 L254.04,614.89 L255.44,614.86 L256.83,614.83 L258.22,614.80 L259.61,614.78 L261.00,614.76 L262.39,614.74 L263.78,614.72 L265.18,614.70 L266.57,614.68 L267.96,614.67 L269.35,614.65 L270.74,614.64 L272.13,614.63 L273.52,614.62 L274.92,614.61 L276.31,614.60 L277.70,614.59 L279.09,614.58 L280.48,614.57 L281.87,614.56 L283.26,614.56 L284.66,614.55 L286.05,614.55 L287.44,614.54 L288.83,614.54 L290.22,614.53 L291.61,614.53 L293.01,614.52 L294.40,614.52 L295.79,614.52 L297.18,614.51 L298.57,614.51 L299.96,614.51 L301.35,614.51 L302.75,614.50 L304.14,614.50 L305.53,614.50 L306.92,614.50 L308.31,614.50 L309.70,614.50 L311.09,614.49 L312.49,614.49 L313.88,614.49 L315.27,614.49 L316.66,614.49 L318.05,614.49 L319.44,614.49 L320.83,614.49 L322.23,614.49 L323.62,614.49 L325.01,614.49 L326.40,614.49" fill="none" stroke="#7cbde0" stroke-width="1.05" stroke-linejoin="round"/><path d="M49.50,656.20 L50.89,656.19 L52.28,656.18 L53.67,656.18 L55.07,656.17 L56.46,656.16 L57.85,656.15 L59.24,656.14 L60.63,656.13 L62.02,656.11 L63.41,656.10 L64.81,656.09 L66.20,656.07 L67.59,656.05 L68.98,656.04 L70.37,656.02 L71.76,656.00 L73.15,655.98 L74.55,655.95 L75.94,655.93 L77.33,655.90 L78.72,655.88 L80.11,655.85 L81.50,655.81 L82.89,655.78 L84.29,655.74 L85.68,655.71 L87.07,655.66 L88.46,655.62 L89.85,655.57 L91.24,655.52 L92.64,655.47 L94.03,655.42 L95.42,655.36 L96.81,655.29 L98.20,655.23 L99.59,655.16 L100.98,655.08 L102.38,655.00 L103.77,654.92 L105.16,654.83 L106.55,654.74 L107.94,654.65 L109.33,654.55 L110.72,654.44 L112.12,654.33 L113.51,654.21 L114.90,654.09 L116.29,653.97 L117.68,653.83 L119.07,653.70 L120.46,653.56 L121.86,653.41 L123.25,653.26 L124.64,653.10 L126.03,652.94 L127.42,652.77 L128.81,652.60 L130.20,652.43 L131.60,652.25 L132.99,652.07 L134.38,651.88 L135.77,651.69 L137.16,651.50 L138.55,651.30 L139.94,651.11 L141.34,650.91 L142.73,650.70 L144.12,650.50 L145.51,650.30 L146.90,650.09 L148.29,649.89 L149.68,649.68 L151.08,649.48 L152.47,649.28 L153.86,649.07 L155.25,648.87 L156.64,648.67 L158.03,648.48 L159.43,648.28 L160.82,648.09 L162.21,647.90 L163.60,647.72 L164.99,647.54 L166.38,647.36 L167.77,647.19 L169.17,647.02 L170.56,646.86 L171.95,646.70 L173.34,646.54 L174.73,646.39 L176.12,646.25 L177.51,646.11 L178.91,645.98 L180.30,645.85 L181.69,645.73 L183.08,645.61 L184.47,645.49 L185.86,645.38 L187.25,645.28 L188.65,645.18 L190.04,645.09 L191.43,645.00 L192.82,644.91 L194.21,644.83 L195.60,644.76 L196.99,644.68 L198.39,644.62 L199.78,644.55 L201.17,644.49 L202.56,644.43 L203.95,644.38 L205.34,644.33 L206.73,644.28 L208.13,644.23 L209.52,644.19 L210.91,644.15 L212.30,644.11 L213.69,644.08 L215.08,644.05 L216.47,644.02 L217.87,643.99 L219.26,643.96 L220.65,643.93 L222.04,643.91 L223.43,643.89 L224.82,643.87 L226.22,643.85 L227.61,643.83 L229.00,643.81 L230.39,643.80 L231.78,643.78 L233.17,643.77 L234.56,643.76 L235.96,643.75 L237.35,643.73 L238.74,643.72 L240.13,643.71 L241.52,643.71 L242.91,643.70 L244.30,643.69 L245.70,643.68 L247.09,643.68 L248.48,643.67 L249.87,643.66 L251.26,643.66 L252.65,643.65 L254.04,643.65 L255.44,643.64 L256.83,643.64 L258.22,643.64 L259.61,643.63 L261.00,643.63 L262.39,643.63 L263.78,643.62 L265.18,643.62 L266.57,643.62 L267.96,643.62 L269.35,643.61 L270.74,643.61 L272.13,643.61 L273.52,643.61 L274.92,643.61 L276.31,643.60 L277.70,643.60 L279.09,643.60 L280.48,643.60 L281.87,643.60 L283.26,643.60 L284.66,643.60 L286.05,643.60 L287.44,643.60 L288.83,643.59 L290.22,643.59 L291.61,643.59 L293.01,643.59 L294.40,643.59 L295.79,643.59 L297.18,643.59 L298.57,643.59 L299.96,643.59 L301.35,643.59 L302.75,643.59 L304.14,643.59 L305.53,643.59 L306.92,643.59 L308.31,643.59 L309.70,643.59 L311.09,643.59 L312.49,643.59 L313.88,643.59 L315.27,643.59 L316.66,643.59 L318.05,643.59 L319.44,643.59 L320.83,643.59 L322.23,643.59 L323.62,643.59 L325.01,643.59 L326.40,643.59" fill="none" stroke="#7cbde0" stroke-width="1.05" stroke-linejoin="round"/><path d="M49.50,671.20v-3.2M49.50,507.40v3.2M63.39,671.20v-1.4M63.39,507.40v1.4M71.52,671.20v-1.4M71.52,507.40v1.4M77.29,671.20v-1.4M77.29,507.40v1.4M81.76,671.20v-1.4M81.76,507.40v1.4M85.41,671.20v-1.4M85.41,507.40v1.4M88.50,671.20v-1.4M88.50,507.40v1.4M91.18,671.20v-1.4M91.18,507.40v1.4M93.54,671.20v-1.4M93.54,507.40v1.4M95.65,671.20v-3.2M95.65,507.40v3.2M109.54,671.20v-1.4M109.54,507.40v1.4M117.67,671.20v-1.4M117.67,507.40v1.4M123.44,671.20v-1.4M123.44,507.40v1.4M127.91,671.20v-1.4M127.91,507.40v1.4M131.56,671.20v-1.4M131.56,507.40v1.4M134.65,671.20v-1.4M134.65,507.40v1.4M137.33,671.20v-1.4M137.33,507.40v1.4M139.69,671.20v-1.4M139.69,507.40v1.4M141.80,671.20v-3.2M141.80,507.40v3.2M155.69,671.20v-1.4M155.69,507.40v1.4M163.82,671.20v-1.4M163.82,507.40v1.4M169.59,671.20v-1.4M169.59,507.40v1.4M174.06,671.20v-1.4M174.06,507.40v1.4M177.71,671.20v-1.4M177.71,507.40v1.4M180.80,671.20v-1.4M180.80,507.40v1.4M183.48,671.20v-1.4M183.48,507.40v1.4M185.84,671.20v-1.4M185.84,507.40v1.4M187.95,671.20v-3.2M187.95,507.40v3.2M201.84,671.20v-1.4M201.84,507.40v1.4M209.97,671.20v-1.4M209.97,507.40v1.4M215.74,671.20v-1.4M215.74,507.40v1.4M220.21,671.20v-1.4M220.21,507.40v1.4M223.86,671.20v-1.4M223.86,507.40v1.4M226.95,671.20v-1.4M226.95,507.40v1.4M229.63,671.20v-1.4M229.63,507.40v1.4M231.99,671.20v-1.4M231.99,507.40v1.4M234.10,671.20v-3.2M234.10,507.40v3.2M247.99,671.20v-1.4M247.99,507.40v1.4M256.12,671.20v-1.4M256.12,507.40v1.4M261.89,671.20v-1.4M261.89,507.40v1.4M266.36,671.20v-1.4M266.36,507.40v1.4M270.01,671.20v-1.4M270.01,507.40v1.4M273.10,671.20v-1.4M273.10,507.40v1.4M275.78,671.20v-1.4M275.78,507.40v1.4M278.14,671.20v-1.4M278.14,507.40v1.4M280.25,671.20v-3.2M280.25,507.40v3.2M294.14,671.20v-1.4M294.14,507.40v1.4M302.27,671.20v-1.4M302.27,507.40v1.4M308.04,671.20v-1.4M308.04,507.40v1.4M312.51,671.20v-1.4M312.51,507.40v1.4M316.16,671.20v-1.4M316.16,507.40v1.4M319.25,671.20v-1.4M319.25,507.40v1.4M321.93,671.20v-1.4M321.93,507.40v1.4M324.29,671.20v-1.4M324.29,507.40v1.4M326.40,671.20v-3.2M326.40,507.40v3.2M49.50,671.20h3.2M326.40,671.20h-3.2M49.50,664.16h1.4M326.40,664.16h-1.4M49.50,660.04h1.4M326.40,660.04h-1.4M49.50,657.11h1.4M326.40,657.11h-1.4M49.50,654.84h1.4M326.40,654.84h-1.4M49.50,652.99h1.4M326.40,652.99h-1.4M49.50,651.42h1.4M326.40,651.42h-1.4M49.50,650.07h1.4M326.40,650.07h-1.4M49.50,648.87h1.4M326.40,648.87h-1.4M49.50,647.80h3.2M326.40,647.80h-3.2M49.50,640.76h1.4M326.40,640.76h-1.4M49.50,636.64h1.4M326.40,636.64h-1.4M49.50,633.71h1.4M326.40,633.71h-1.4M49.50,631.44h1.4M326.40,631.44h-1.4M49.50,629.59h1.4M326.40,629.59h-1.4M49.50,628.02h1.4M326.40,628.02h-1.4M49.50,626.67h1.4M326.40,626.67h-1.4M49.50,625.47h1.4M326.40,625.47h-1.4M49.50,624.40h3.2M326.40,624.40h-3.2M49.50,617.36h1.4M326.40,617.36h-1.4M49.50,613.24h1.4M326.40,613.24h-1.4M49.50,610.31h1.4M326.40,610.31h-1.4M49.50,608.04h1.4M326.40,608.04h-1.4M49.50,606.19h1.4M326.40,606.19h-1.4M49.50,604.62h1.4M326.40,604.62h-1.4M49.50,603.27h1.4M326.40,603.27h-1.4M49.50,602.07h1.4M326.40,602.07h-1.4M49.50,601.00h3.2M326.40,601.00h-3.2M49.50,593.96h1.4M326.40,593.96h-1.4M49.50,589.84h1.4M326.40,589.84h-1.4M49.50,586.91h1.4M326.40,586.91h-1.4M49.50,584.64h1.4M326.40,584.64h-1.4M49.50,582.79h1.4M326.40,582.79h-1.4M49.50,581.22h1.4M326.40,581.22h-1.4M49.50,579.87h1.4M326.40,579.87h-1.4M49.50,578.67h1.4M326.40,578.67h-1.4M49.50,577.60h3.2M326.40,577.60h-3.2M49.50,570.56h1.4M326.40,570.56h-1.4M49.50,566.44h1.4M326.40,566.44h-1.4M49.50,563.51h1.4M326.40,563.51h-1.4M49.50,561.24h1.4M326.40,561.24h-1.4M49.50,559.39h1.4M326.40,559.39h-1.4M49.50,557.82h1.4M326.40,557.82h-1.4M49.50,556.47h1.4M326.40,556.47h-1.4M49.50,555.27h1.4M326.40,555.27h-1.4M49.50,554.20h3.2M326.40,554.20h-3.2M49.50,547.16h1.4M326.40,547.16h-1.4M49.50,543.04h1.4M326.40,543.04h-1.4M49.50,540.11h1.4M326.40,540.11h-1.4M49.50,537.84h1.4M326.40,537.84h-1.4M49.50,535.99h1.4M326.40,535.99h-1.4M49.50,534.42h1.4M326.40,534.42h-1.4M49.50,533.07h1.4M326.40,533.07h-1.4M49.50,531.87h1.4M326.40,531.87h-1.4M49.50,530.80h3.2M326.40,530.80h-3.2M49.50,523.76h1.4M326.40,523.76h-1.4M49.50,519.64h1.4M326.40,519.64h-1.4M49.50,516.71h1.4M326.40,516.71h-1.4M49.50,514.44h1.4M326.40,514.44h-1.4M49.50,512.59h1.4M326.40,512.59h-1.4M49.50,511.02h1.4M326.40,511.02h-1.4M49.50,509.67h1.4M326.40,509.67h-1.4M49.50,508.47h1.4M326.40,508.47h-1.4M49.50,507.40h3.2M326.40,507.40h-3.2" stroke="#686868" stroke-width="0.9" fill="none"/><rect x="49.50" y="507.40" width="276.90" height="163.80" fill="none" stroke="#686868" stroke-width="1.2"/><text x="49.50" y="686.60" font-size="11" text-anchor="middle">10<tspan dy="-5.2" font-size="8.8">-12</tspan></text><text x="95.65" y="686.60" font-size="11" text-anchor="middle">10<tspan dy="-5.2" font-size="8.8">-11</tspan></text><text x="141.80" y="686.60" font-size="11" text-anchor="middle">10<tspan dy="-5.2" font-size="8.8">-10</tspan></text><text x="187.95" y="686.60" font-size="11" text-anchor="middle">10<tspan dy="-5.2" font-size="8.8">-9</tspan></text><text x="234.10" y="686.60" font-size="11" text-anchor="middle">10<tspan dy="-5.2" font-size="8.8">-8</tspan></text><text x="280.25" y="686.60" font-size="11" text-anchor="middle">10<tspan dy="-5.2" font-size="8.8">-7</tspan></text><text x="326.40" y="686.60" font-size="11" text-anchor="middle">10<tspan dy="-5.2" font-size="8.8">-6</tspan></text><text x="42.90" y="675.80" font-size="11" text-anchor="end">10<tspan dy="-5.2" font-size="8.8">-12</tspan></text><text x="42.90" y="652.40" font-size="11" text-anchor="end">10<tspan dy="-5.2" font-size="8.8">-11</tspan></text><text x="42.90" y="629.00" font-size="11" text-anchor="end">10<tspan dy="-5.2" font-size="8.8">-10</tspan></text><text x="42.90" y="605.60" font-size="11" text-anchor="end">10<tspan dy="-5.2" font-size="8.8">-9</tspan></text><text x="42.90" y="582.20" font-size="11" text-anchor="end">10<tspan dy="-5.2" font-size="8.8">-8</tspan></text><text x="42.90" y="558.80" font-size="11" text-anchor="end">10<tspan dy="-5.2" font-size="8.8">-7</tspan></text><text x="42.90" y="535.40" font-size="11" text-anchor="end">10<tspan dy="-5.2" font-size="8.8">-6</tspan></text><text x="42.90" y="512.00" font-size="11" text-anchor="end">10<tspan dy="-5.2" font-size="8.8">-5</tspan></text><text x="187.95" y="491.90" font-size="13.5" text-anchor="middle">m<tspan dy="3.6" font-size="9.8">1</tspan><tspan dy="-3.6">=0.01, E=15 MeV</tspan></text><text x="187.95" y="701.20" font-size="13" text-anchor="middle">ρ/ρ<tspan dy="4.6" font-size="10">0</tspan></text><text transform="translate(10.60,589.30) rotate(-90)" x="0" y="0" font-size="13.4" text-anchor="middle">m<tspan dy="3.6" font-size="10">i</tspan><tspan dy="-3.6"> [eV]</tspan></text></g>
<g><path d="M395.60,601.49 L396.99,601.49 L398.37,601.49 L399.76,601.49 L401.15,601.49 L402.54,601.49 L403.92,601.49 L405.31,601.49 L406.70,601.49 L408.09,601.49 L409.47,601.49 L410.86,601.49 L412.25,601.48 L413.64,601.48 L415.02,601.48 L416.41,601.48 L417.80,601.48 L419.19,601.48 L420.57,601.48 L421.96,601.48 L423.35,601.47 L424.74,601.47 L426.12,601.47 L427.51,601.47 L428.90,601.47 L430.29,601.47 L431.67,601.46 L433.06,601.46 L434.45,601.46 L435.84,601.46 L437.22,601.45 L438.61,601.45 L440.00,601.45 L441.39,601.44 L442.77,601.44 L444.16,601.43 L445.55,601.43 L446.94,601.42 L448.32,601.42 L449.71,601.41 L451.10,601.41 L452.48,601.40 L453.87,601.39 L455.26,601.39 L456.65,601.38 L458.03,601.37 L459.42,601.36 L460.81,601.35 L462.20,601.34 L463.58,601.33 L464.97,601.32 L466.36,601.30 L467.75,601.29 L469.13,601.28 L470.52,601.26 L471.91,601.24 L473.30,601.22 L474.68,601.21 L476.07,601.18 L477.46,601.16 L478.85,601.14 L480.23,601.11 L481.62,601.09 L483.01,601.06 L484.40,601.03 L485.78,600.99 L487.17,600.96 L488.56,600.92 L489.95,600.88 L491.33,600.84 L492.72,600.79 L494.11,600.74 L495.50,600.69 L496.88,600.63 L498.27,600.57 L499.66,600.51 L501.05,600.44 L502.43,600.37 L503.82,600.29 L505.21,600.21 L506.59,600.12 L507.98,600.03 L509.37,599.93 L510.76,599.82 L512.14,599.71 L513.53,599.59 L514.92,599.47 L516.31,599.33 L517.69,599.19 L519.08,599.04 L520.47,598.89 L521.86,598.72 L523.24,598.54 L524.63,598.36 L526.02,598.16 L527.41,597.95 L528.79,597.73 L530.18,597.50 L531.57,597.26 L532.96,597.01 L534.34,596.74 L535.73,596.47 L537.12,596.17 L538.51,595.87 L539.89,595.55 L541.28,595.22 L542.67,594.88 L544.06,594.52 L545.44,594.15 L546.83,593.76 L548.22,593.36 L549.61,592.94 L550.99,592.51 L552.38,592.07 L553.77,591.61 L555.16,591.14 L556.54,590.65 L557.93,590.15 L559.32,589.64 L560.71,589.11 L562.09,588.57 L563.48,588.02 L564.87,587.46 L566.25,586.88 L567.64,586.29 L569.03,585.70 L570.42,585.09 L571.80,584.46 L573.19,583.83 L574.58,583.19 L575.97,582.54 L577.35,581.88 L578.74,581.21 L580.13,580.54 L581.52,579.85 L582.90,579.16 L584.29,578.46 L585.68,577.75 L587.07,577.04 L588.45,576.32 L589.84,575.59 L591.23,574.86 L592.62,574.12 L594.00,573.38 L595.39,572.64 L596.78,571.88 L598.17,571.13 L599.55,570.37 L600.94,569.61 L602.33,568.84 L603.72,568.07 L605.10,567.30 L606.49,566.52 L607.88,565.74 L609.27,564.96 L610.65,564.18 L612.04,563.39 L613.43,562.60 L614.82,561.81 L616.20,561.02 L617.59,560.22 L618.98,559.43 L620.36,558.63 L621.75,557.83 L623.14,557.03 L624.53,556.23 L625.91,555.43 L627.30,554.62 L628.69,553.82 L630.08,553.01 L631.46,552.20 L632.85,551.40 L634.24,550.59 L635.63,549.78 L637.01,548.97 L638.40,548.16 L639.79,547.35 L641.18,546.53 L642.56,545.72 L643.95,544.91 L645.34,544.09 L646.73,543.28 L648.11,542.47 L649.50,541.65 L650.89,540.84 L652.28,540.02 L653.66,539.20 L655.05,538.39 L656.44,537.57 L657.83,536.76 L659.21,535.94 L660.60,535.12 L661.99,534.30 L663.38,533.49 L664.76,532.67 L666.15,531.85 L667.54,531.03 L668.93,530.22 L670.31,529.40 L671.70,528.58" fill="none" stroke="#7cbde0" stroke-width="1.05" stroke-linejoin="round"/><path d="M395.60,638.27 L396.99,638.27 L398.37,638.27 L399.76,638.27 L401.15,638.27 L402.54,638.27 L403.92,638.27 L405.31,638.27 L406.70,638.27 L408.09,638.27 L409.47,638.27 L410.86,638.27 L412.25,638.27 L413.64,638.27 L415.02,638.26 L416.41,638.26 L417.80,638.26 L419.19,638.26 L420.57,638.26 L421.96,638.26 L423.35,638.26 L424.74,638.26 L426.12,638.25 L427.51,638.25 L428.90,638.25 L430.29,638.25 L431.67,638.25 L433.06,638.24 L434.45,638.24 L435.84,638.24 L437.22,638.24 L438.61,638.23 L440.00,638.23 L441.39,638.22 L442.77,638.22 L444.16,638.22 L445.55,638.21 L446.94,638.20 L448.32,638.20 L449.71,638.19 L451.10,638.19 L452.48,638.18 L453.87,638.17 L455.26,638.16 L456.65,638.15 L458.03,638.14 L459.42,638.13 L460.81,638.12 L462.20,638.11 L463.58,638.09 L464.97,638.08 L466.36,638.06 L467.75,638.04 L469.13,638.03 L470.52,638.01 L471.91,637.98 L473.30,637.96 L474.68,637.94 L476.07,637.91 L477.46,637.88 L478.85,637.85 L480.23,637.81 L481.62,637.78 L483.01,637.74 L484.40,637.70 L485.78,637.65 L487.17,637.61 L488.56,637.56 L489.95,637.50 L491.33,637.44 L492.72,637.38 L494.11,637.32 L495.50,637.25 L496.88,637.17 L498.27,637.09 L499.66,637.01 L501.05,636.92 L502.43,636.83 L503.82,636.73 L505.21,636.62 L506.59,636.51 L507.98,636.40 L509.37,636.28 L510.76,636.15 L512.14,636.02 L513.53,635.88 L514.92,635.73 L516.31,635.59 L517.69,635.43 L519.08,635.27 L520.47,635.11 L521.86,634.94 L523.24,634.76 L524.63,634.58 L526.02,634.40 L527.41,634.22 L528.79,634.03 L530.18,633.84 L531.57,633.64 L532.96,633.45 L534.34,633.25 L535.73,633.06 L537.12,632.86 L538.51,632.66 L539.89,632.47 L541.28,632.27 L542.67,632.08 L544.06,631.89 L545.44,631.70 L546.83,631.52 L548.22,631.34 L549.61,631.16 L550.99,630.99 L552.38,630.82 L553.77,630.66 L555.16,630.50 L556.54,630.35 L557.93,630.20 L559.32,630.06 L560.71,629.93 L562.09,629.80 L563.48,629.67 L564.87,629.55 L566.25,629.44 L567.64,629.33 L569.03,629.23 L570.42,629.13 L571.80,629.04 L573.19,628.95 L574.58,628.87 L575.97,628.79 L577.35,628.72 L578.74,628.65 L580.13,628.59 L581.52,628.53 L582.90,628.47 L584.29,628.42 L585.68,628.37 L587.07,628.32 L588.45,628.28 L589.84,628.24 L591.23,628.20 L592.62,628.17 L594.00,628.13 L595.39,628.10 L596.78,628.08 L598.17,628.05 L599.55,628.03 L600.94,628.00 L602.33,627.98 L603.72,627.96 L605.10,627.94 L606.49,627.93 L607.88,627.91 L609.27,627.90 L610.65,627.88 L612.04,627.87 L613.43,627.86 L614.82,627.85 L616.20,627.84 L617.59,627.83 L618.98,627.82 L620.36,627.81 L621.75,627.81 L623.14,627.80 L624.53,627.79 L625.91,627.79 L627.30,627.78 L628.69,627.78 L630.08,627.77 L631.46,627.77 L632.85,627.77 L634.24,627.76 L635.63,627.76 L637.01,627.76 L638.40,627.75 L639.79,627.75 L641.18,627.75 L642.56,627.75 L643.95,627.74 L645.34,627.74 L646.73,627.74 L648.11,627.74 L649.50,627.74 L650.89,627.74 L652.28,627.73 L653.66,627.73 L655.05,627.73 L656.44,627.73 L657.83,627.73 L659.21,627.73 L660.60,627.73 L661.99,627.73 L663.38,627.73 L664.76,627.73 L666.15,627.73 L667.54,627.73 L668.93,627.72 L670.31,627.72 L671.70,627.72" fill="none" stroke="#7cbde0" stroke-width="1.05" stroke-linejoin="round"/><path d="M395.60,644.16 L396.99,644.16 L398.37,644.16 L399.76,644.16 L401.15,644.16 L402.54,644.16 L403.92,644.16 L405.31,644.16 L406.70,644.16 L408.09,644.16 L409.47,644.16 L410.86,644.16 L412.25,644.16 L413.64,644.16 L415.02,644.16 L416.41,644.16 L417.80,644.16 L419.19,644.16 L420.57,644.15 L421.96,644.15 L423.35,644.15 L424.74,644.15 L426.12,644.15 L427.51,644.15 L428.90,644.15 L430.29,644.15 L431.67,644.15 L433.06,644.15 L434.45,644.15 L435.84,644.15 L437.22,644.15 L438.61,644.15 L440.00,644.15 L441.39,644.15 L442.77,644.15 L444.16,644.14 L445.55,644.14 L446.94,644.14 L448.32,644.14 L449.71,644.14 L451.10,644.14 L452.48,644.13 L453.87,644.13 L455.26,644.13 L456.65,644.13 L458.03,644.12 L459.42,644.12 L460.81,644.12 L462.20,644.11 L463.58,644.11 L464.97,644.10 L466.36,644.10 L467.75,644.09 L469.13,644.09 L470.52,644.08 L471.91,644.07 L473.30,644.06 L474.68,644.05 L476.07,644.04 L477.46,644.03 L478.85,644.02 L480.23,644.01 L481.62,644.00 L483.01,643.98 L484.40,643.97 L485.78,643.95 L487.17,643.93 L488.56,643.91 L489.95,643.89 L491.33,643.87 L492.72,643.85 L494.11,643.82 L495.50,643.80 L496.88,643.77 L498.27,643.74 L499.66,643.72 L501.05,643.69 L502.43,643.66 L503.82,643.62 L505.21,643.59 L506.59,643.56 L507.98,643.52 L509.37,643.49 L510.76,643.46 L512.14,643.42 L513.53,643.39 L514.92,643.35 L516.31,643.32 L517.69,643.29 L519.08,643.25 L520.47,643.22 L521.86,643.19 L523.24,643.16 L524.63,643.14 L526.02,643.11 L527.41,643.08 L528.79,643.06 L530.18,643.04 L531.57,643.01 L532.96,642.99 L534.34,642.97 L535.73,642.95 L537.12,642.94 L538.51,642.92 L539.89,642.91 L541.28,642.89 L542.67,642.88 L544.06,642.87 L545.44,642.86 L546.83,642.85 L548.22,642.84 L549.61,642.83 L550.99,642.82 L552.38,642.82 L553.77,642.81 L555.16,642.80 L556.54,642.80 L557.93,642.79 L559.32,642.79 L560.71,642.78 L562.09,642.78 L563.48,642.78 L564.87,642.77 L566.25,642.77 L567.64,642.77 L569.03,642.76 L570.42,642.76 L571.80,642.76 L573.19,642.76 L574.58,642.76 L575.97,642.76 L577.35,642.75 L578.74,642.75 L580.13,642.75 L581.52,642.75 L582.90,642.75 L584.29,642.75 L585.68,642.75 L587.07,642.75 L588.45,642.75 L589.84,642.75 L591.23,642.75 L592.62,642.75 L594.00,642.74 L595.39,642.74 L596.78,642.74 L598.17,642.74 L599.55,642.74 L600.94,642.74 L602.33,642.74 L603.72,642.74 L605.10,642.74 L606.49,642.74 L607.88,642.74 L609.27,642.74 L610.65,642.74 L612.04,642.74 L613.43,642.74 L614.82,642.74 L616.20,642.74 L617.59,642.74 L618.98,642.74 L620.36,642.74 L621.75,642.74 L623.14,642.74 L624.53,642.74 L625.91,642.74 L627.30,642.74 L628.69,642.74 L630.08,642.74 L631.46,642.74 L632.85,642.74 L634.24,642.74 L635.63,642.74 L637.01,642.74 L638.40,642.74 L639.79,642.74 L641.18,642.74 L642.56,642.74 L643.95,642.74 L645.34,642.74 L646.73,642.74 L648.11,642.74 L649.50,642.74 L650.89,642.74 L652.28,642.74 L653.66,642.74 L655.05,642.74 L656.44,642.74 L657.83,642.74 L659.21,642.74 L660.60,642.74 L661.99,642.74 L663.38,642.74 L664.76,642.74 L666.15,642.74 L667.54,642.74 L668.93,642.74 L670.31,642.74 L671.70,642.74" fill="none" stroke="#7cbde0" stroke-width="1.05" stroke-linejoin="round"/><path d="M395.60,669.50v-3.2M395.60,506.30v3.2M409.45,669.50v-1.4M409.45,506.30v1.4M417.56,669.50v-1.4M417.56,506.30v1.4M423.30,669.50v-1.4M423.30,506.30v1.4M427.76,669.50v-1.4M427.76,506.30v1.4M431.41,669.50v-1.4M431.41,506.30v1.4M434.49,669.50v-1.4M434.49,506.30v1.4M437.16,669.50v-1.4M437.16,506.30v1.4M439.51,669.50v-1.4M439.51,506.30v1.4M441.62,669.50v-3.2M441.62,506.30v3.2M455.47,669.50v-1.4M455.47,506.30v1.4M463.57,669.50v-1.4M463.57,506.30v1.4M469.32,669.50v-1.4M469.32,506.30v1.4M473.78,669.50v-1.4M473.78,506.30v1.4M477.42,669.50v-1.4M477.42,506.30v1.4M480.51,669.50v-1.4M480.51,506.30v1.4M483.17,669.50v-1.4M483.17,506.30v1.4M485.53,669.50v-1.4M485.53,506.30v1.4M487.63,669.50v-3.2M487.63,506.30v3.2M501.49,669.50v-1.4M501.49,506.30v1.4M509.59,669.50v-1.4M509.59,506.30v1.4M515.34,669.50v-1.4M515.34,506.30v1.4M519.80,669.50v-1.4M519.80,506.30v1.4M523.44,669.50v-1.4M523.44,506.30v1.4M526.52,669.50v-1.4M526.52,506.30v1.4M529.19,669.50v-1.4M529.19,506.30v1.4M531.54,669.50v-1.4M531.54,506.30v1.4M533.65,669.50v-3.2M533.65,506.30v3.2M547.50,669.50v-1.4M547.50,506.30v1.4M555.61,669.50v-1.4M555.61,506.30v1.4M561.35,669.50v-1.4M561.35,506.30v1.4M565.81,669.50v-1.4M565.81,506.30v1.4M569.46,669.50v-1.4M569.46,506.30v1.4M572.54,669.50v-1.4M572.54,506.30v1.4M575.21,669.50v-1.4M575.21,506.30v1.4M577.56,669.50v-1.4M577.56,506.30v1.4M579.67,669.50v-3.2M579.67,506.30v3.2M593.52,669.50v-1.4M593.52,506.30v1.4M601.62,669.50v-1.4M601.62,506.30v1.4M607.37,669.50v-1.4M607.37,506.30v1.4M611.83,669.50v-1.4M611.83,506.30v1.4M615.47,669.50v-1.4M615.47,506.30v1.4M618.56,669.50v-1.4M618.56,506.30v1.4M621.22,669.50v-1.4M621.22,506.30v1.4M623.58,669.50v-1.4M623.58,506.30v1.4M625.68,669.50v-3.2M625.68,506.30v3.2M639.54,669.50v-1.4M639.54,506.30v1.4M647.64,669.50v-1.4M647.64,506.30v1.4M653.39,669.50v-1.4M653.39,506.30v1.4M657.85,669.50v-1.4M657.85,506.30v1.4M661.49,669.50v-1.4M661.49,506.30v1.4M664.57,669.50v-1.4M664.57,506.30v1.4M667.24,669.50v-1.4M667.24,506.30v1.4M669.59,669.50v-1.4M669.59,506.30v1.4M671.70,669.50v-3.2M671.70,506.30v3.2M395.60,669.50h3.2M671.70,669.50h-3.2M395.60,661.31h1.4M671.70,661.31h-1.4M395.60,656.52h1.4M671.70,656.52h-1.4M395.60,653.12h1.4M671.70,653.12h-1.4M395.60,650.49h1.4M671.70,650.49h-1.4M395.60,648.33h1.4M671.70,648.33h-1.4M395.60,646.51h1.4M671.70,646.51h-1.4M395.60,644.94h1.4M671.70,644.94h-1.4M395.60,643.54h1.4M671.70,643.54h-1.4M395.60,642.30h3.2M671.70,642.30h-3.2M395.60,634.11h1.4M671.70,634.11h-1.4M395.60,629.32h1.4M671.70,629.32h-1.4M395.60,625.92h1.4M671.70,625.92h-1.4M395.60,623.29h1.4M671.70,623.29h-1.4M395.60,621.13h1.4M671.70,621.13h-1.4M395.60,619.31h1.4M671.70,619.31h-1.4M395.60,617.74h1.4M671.70,617.74h-1.4M395.60,616.34h1.4M671.70,616.34h-1.4M395.60,615.10h3.2M671.70,615.10h-3.2M395.60,606.91h1.4M671.70,606.91h-1.4M395.60,602.12h1.4M671.70,602.12h-1.4M395.60,598.72h1.4M671.70,598.72h-1.4M395.60,596.09h1.4M671.70,596.09h-1.4M395.60,593.93h1.4M671.70,593.93h-1.4M395.60,592.11h1.4M671.70,592.11h-1.4M395.60,590.54h1.4M671.70,590.54h-1.4M395.60,589.14h1.4M671.70,589.14h-1.4M395.60,587.90h3.2M671.70,587.90h-3.2M395.60,579.71h1.4M671.70,579.71h-1.4M395.60,574.92h1.4M671.70,574.92h-1.4M395.60,571.52h1.4M671.70,571.52h-1.4M395.60,568.89h1.4M671.70,568.89h-1.4M395.60,566.73h1.4M671.70,566.73h-1.4M395.60,564.91h1.4M671.70,564.91h-1.4M395.60,563.34h1.4M671.70,563.34h-1.4M395.60,561.94h1.4M671.70,561.94h-1.4M395.60,560.70h3.2M671.70,560.70h-3.2M395.60,552.51h1.4M671.70,552.51h-1.4M395.60,547.72h1.4M671.70,547.72h-1.4M395.60,544.32h1.4M671.70,544.32h-1.4M395.60,541.69h1.4M671.70,541.69h-1.4M395.60,539.53h1.4M671.70,539.53h-1.4M395.60,537.71h1.4M671.70,537.71h-1.4M395.60,536.14h1.4M671.70,536.14h-1.4M395.60,534.74h1.4M671.70,534.74h-1.4M395.60,533.50h3.2M671.70,533.50h-3.2M395.60,525.31h1.4M671.70,525.31h-1.4M395.60,520.52h1.4M671.70,520.52h-1.4M395.60,517.12h1.4M671.70,517.12h-1.4M395.60,514.49h1.4M671.70,514.49h-1.4M395.60,512.33h1.4M671.70,512.33h-1.4M395.60,510.51h1.4M671.70,510.51h-1.4M395.60,508.94h1.4M671.70,508.94h-1.4M395.60,507.54h1.4M671.70,507.54h-1.4M395.60,506.30h3.2M671.70,506.30h-3.2" stroke="#686868" stroke-width="0.9" fill="none"/><rect x="395.60" y="506.30" width="276.10" height="163.20" fill="none" stroke="#686868" stroke-width="1.2"/><text x="395.60" y="684.90" font-size="11" text-anchor="middle">10<tspan dy="-5.2" font-size="8.8">-12</tspan></text><text x="441.62" y="684.90" font-size="11" text-anchor="middle">10<tspan dy="-5.2" font-size="8.8">-11</tspan></text><text x="487.63" y="684.90" font-size="11" text-anchor="middle">10<tspan dy="-5.2" font-size="8.8">-10</tspan></text><text x="533.65" y="684.90" font-size="11" text-anchor="middle">10<tspan dy="-5.2" font-size="8.8">-9</tspan></text><text x="579.67" y="684.90" font-size="11" text-anchor="middle">10<tspan dy="-5.2" font-size="8.8">-8</tspan></text><text x="625.68" y="684.90" font-size="11" text-anchor="middle">10<tspan dy="-5.2" font-size="8.8">-7</tspan></text><text x="671.70" y="684.90" font-size="11" text-anchor="middle">10<tspan dy="-5.2" font-size="8.8">-6</tspan></text><text x="389.00" y="674.10" font-size="11" text-anchor="end">10<tspan dy="-5.2" font-size="8.8">-11</tspan></text><text x="389.00" y="646.90" font-size="11" text-anchor="end">10<tspan dy="-5.2" font-size="8.8">-10</tspan></text><text x="389.00" y="619.70" font-size="11" text-anchor="end">10<tspan dy="-5.2" font-size="8.8">-9</tspan></text><text x="389.00" y="592.50" font-size="11" text-anchor="end">10<tspan dy="-5.2" font-size="8.8">-8</tspan></text><text x="389.00" y="565.30" font-size="11" text-anchor="end">10<tspan dy="-5.2" font-size="8.8">-7</tspan></text><text x="389.00" y="538.10" font-size="11" text-anchor="end">10<tspan dy="-5.2" font-size="8.8">-6</tspan></text><text x="389.00" y="510.90" font-size="11" text-anchor="end">10<tspan dy="-5.2" font-size="8.8">-5</tspan></text><text x="533.65" y="490.80" font-size="13.5" text-anchor="middle">m<tspan dy="3.6" font-size="9.8">1</tspan><tspan dy="-3.6">=0.05, E=15 MeV</tspan></text><text x="533.65" y="699.50" font-size="13" text-anchor="middle">ρ/ρ<tspan dy="4.6" font-size="10">0</tspan></text><text transform="translate(356.70,587.90) rotate(-90)" x="0" y="0" font-size="13.4" text-anchor="middle">m<tspan dy="3.6" font-size="10">i</tspan><tspan dy="-3.6"> [eV]</tspan></text></g>
</svg></body></html>
